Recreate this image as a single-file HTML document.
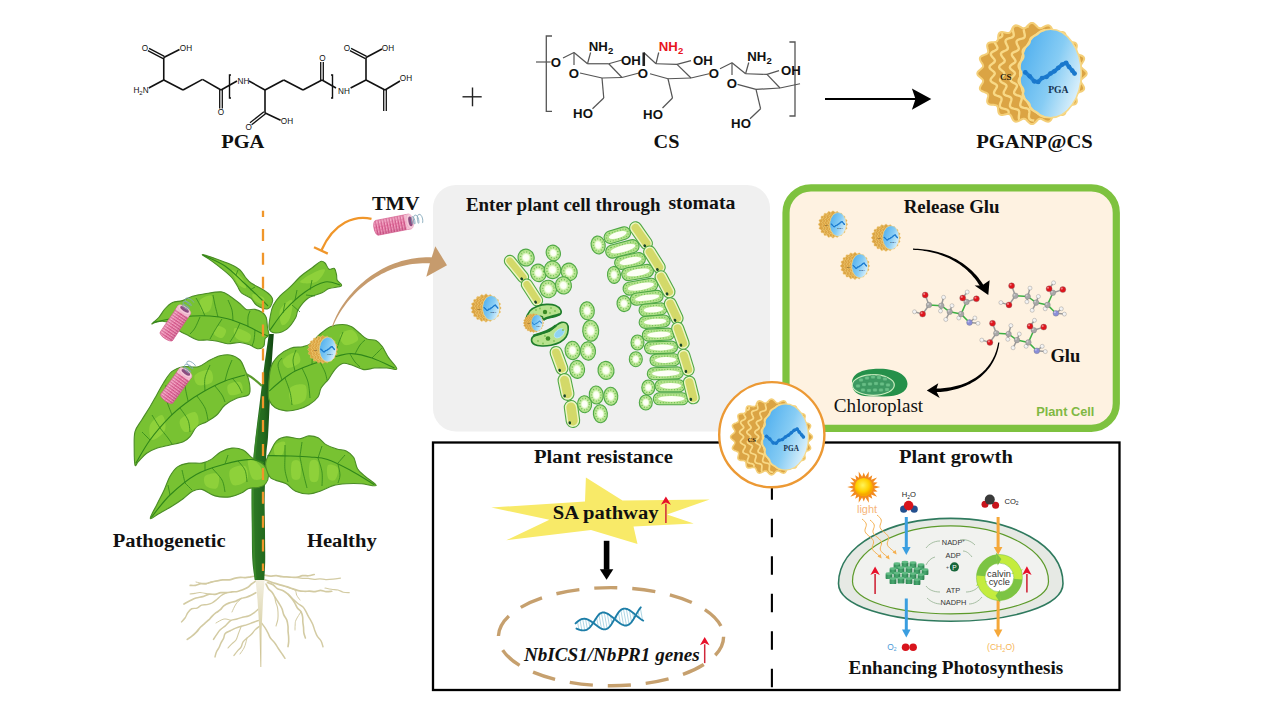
<!DOCTYPE html>
<html><head><meta charset="utf-8"><style>
html,body{margin:0;padding:0;background:#fff;}
svg{display:block;}
</style></head><body>
<svg width="1280" height="720" viewBox="0 0 1280 720">
<defs><clipPath id="npclip"><path d="M97.78,50.00 L97.66,50.69 L97.32,51.37 L96.79,52.04 L96.11,52.68 L95.36,53.30 L94.60,53.89 L93.90,54.47 L93.32,55.05 L92.90,55.64 L92.69,56.24 L92.69,56.88 L92.89,57.55 L93.25,58.27 L93.72,59.02 L94.24,59.80 L94.75,60.61 L95.18,61.41 L95.46,62.19 L95.56,62.94 L95.44,63.63 L95.09,64.25 L94.54,64.80 L93.81,65.28 L92.96,65.70 L92.04,66.07 L91.11,66.42 L90.25,66.78 L89.50,67.16 L88.92,67.60 L88.51,68.11 L88.30,68.72 L88.26,69.42 L88.36,70.20 L88.56,71.05 L88.80,71.94 L89.01,72.85 L89.15,73.74 L89.15,74.56 L89.00,75.30 L88.65,75.92 L88.12,76.42 L87.41,76.78 L86.55,77.03 L85.60,77.19 L84.60,77.28 L83.60,77.35 L82.66,77.44 L81.83,77.59 L81.12,77.84 L80.56,78.21 L80.16,78.73 L79.89,79.38 L79.72,80.15 L79.62,81.02 L79.55,81.94 L79.45,82.86 L79.28,83.74 L79.02,84.53 L78.62,85.18 L78.08,85.68 L77.41,86.00 L76.61,86.14 L75.71,86.14 L74.76,86.01 L73.77,85.81 L72.80,85.59 L71.88,85.41 L71.03,85.32 L70.28,85.35 L69.62,85.55 L69.07,85.92 L68.59,86.47 L68.17,87.15 L67.79,87.95 L67.41,88.80 L67.01,89.65 L66.56,90.44 L66.04,91.12 L65.44,91.63 L64.76,91.94 L64.02,92.05 L63.21,91.96 L62.36,91.70 L61.49,91.31 L60.62,90.84 L59.77,90.36 L58.96,89.92 L58.18,89.59 L57.45,89.41 L56.76,89.41 L56.11,89.60 L55.47,89.98 L54.85,90.52 L54.22,91.17 L53.57,91.87 L52.90,92.56 L52.21,93.19 L51.49,93.68 L50.75,93.99 L50.00,94.10 L49.25,93.99 L48.51,93.68 L47.79,93.19 L47.10,92.56 L46.43,91.87 L45.78,91.17 L45.15,90.52 L44.53,89.98 L43.89,89.60 L43.24,89.41 L42.55,89.41 L41.82,89.59 L41.04,89.92 L40.23,90.36 L39.38,90.84 L38.51,91.31 L37.64,91.70 L36.79,91.96 L35.98,92.05 L35.24,91.94 L34.56,91.63 L33.96,91.12 L33.44,90.44 L32.99,89.65 L32.59,88.80 L32.21,87.95 L31.83,87.15 L31.41,86.47 L30.93,85.92 L30.38,85.55 L29.72,85.35 L28.97,85.32 L28.12,85.41 L27.20,85.59 L26.23,85.81 L25.24,86.01 L24.29,86.14 L23.39,86.14 L22.59,86.00 L21.92,85.68 L21.38,85.18 L20.98,84.53 L20.72,83.74 L20.55,82.86 L20.45,81.94 L20.38,81.02 L20.28,80.15 L20.11,79.38 L19.84,78.73 L19.44,78.21 L18.88,77.84 L18.17,77.59 L17.34,77.44 L16.40,77.35 L15.40,77.28 L14.40,77.19 L13.45,77.03 L12.59,76.78 L11.88,76.42 L11.35,75.92 L11.00,75.30 L10.85,74.56 L10.85,73.74 L10.99,72.85 L11.20,71.94 L11.44,71.05 L11.64,70.20 L11.74,69.42 L11.70,68.72 L11.49,68.11 L11.08,67.60 L10.50,67.16 L9.75,66.78 L8.89,66.42 L7.96,66.07 L7.04,65.70 L6.19,65.28 L5.46,64.80 L4.91,64.25 L4.56,63.63 L4.44,62.94 L4.54,62.19 L4.82,61.41 L5.25,60.61 L5.76,59.80 L6.28,59.02 L6.75,58.27 L7.11,57.55 L7.31,56.88 L7.31,56.24 L7.10,55.64 L6.68,55.05 L6.10,54.47 L5.40,53.89 L4.64,53.30 L3.89,52.68 L3.21,52.04 L2.68,51.37 L2.34,50.69 L2.23,50.00 L2.34,49.31 L2.68,48.63 L3.21,47.96 L3.89,47.32 L4.64,46.70 L5.40,46.11 L6.10,45.53 L6.68,44.95 L7.10,44.36 L7.31,43.76 L7.31,43.12 L7.11,42.45 L6.75,41.73 L6.28,40.98 L5.76,40.20 L5.25,39.39 L4.82,38.59 L4.54,37.81 L4.44,37.06 L4.56,36.37 L4.91,35.75 L5.46,35.20 L6.19,34.72 L7.04,34.30 L7.96,33.93 L8.89,33.58 L9.75,33.22 L10.50,32.84 L11.08,32.40 L11.49,31.89 L11.70,31.28 L11.74,30.58 L11.64,29.80 L11.44,28.95 L11.20,28.06 L10.99,27.15 L10.85,26.26 L10.85,25.44 L11.00,24.70 L11.35,24.08 L11.88,23.58 L12.59,23.22 L13.45,22.97 L14.40,22.81 L15.40,22.72 L16.40,22.65 L17.34,22.56 L18.17,22.41 L18.88,22.16 L19.44,21.79 L19.84,21.27 L20.11,20.62 L20.28,19.85 L20.38,18.98 L20.45,18.06 L20.55,17.14 L20.72,16.26 L20.98,15.47 L21.38,14.82 L21.92,14.32 L22.59,14.00 L23.39,13.86 L24.29,13.86 L25.24,13.99 L26.23,14.19 L27.20,14.41 L28.12,14.59 L28.97,14.68 L29.72,14.65 L30.38,14.45 L30.93,14.08 L31.41,13.53 L31.83,12.85 L32.21,12.05 L32.59,11.20 L32.99,10.35 L33.44,9.56 L33.96,8.88 L34.56,8.37 L35.24,8.06 L35.98,7.95 L36.79,8.04 L37.64,8.30 L38.51,8.69 L39.38,9.16 L40.23,9.64 L41.04,10.08 L41.82,10.41 L42.55,10.59 L43.24,10.59 L43.89,10.40 L44.53,10.02 L45.15,9.48 L45.78,8.83 L46.43,8.13 L47.10,7.44 L47.79,6.81 L48.51,6.32 L49.25,6.01 L50.00,5.90 L50.75,6.01 L51.49,6.32 L52.21,6.81 L52.90,7.44 L53.57,8.13 L54.22,8.83 L54.85,9.48 L55.47,10.02 L56.11,10.40 L56.76,10.59 L57.45,10.59 L58.18,10.41 L58.96,10.08 L59.77,9.64 L60.62,9.16 L61.49,8.69 L62.36,8.30 L63.21,8.04 L64.02,7.95 L64.76,8.06 L65.44,8.37 L66.04,8.88 L66.56,9.56 L67.01,10.35 L67.41,11.20 L67.79,12.05 L68.17,12.85 L68.59,13.53 L69.07,14.08 L69.62,14.45 L70.28,14.65 L71.03,14.68 L71.88,14.59 L72.80,14.41 L73.77,14.19 L74.76,13.99 L75.71,13.86 L76.61,13.86 L77.41,14.00 L78.08,14.32 L78.62,14.82 L79.02,15.47 L79.28,16.26 L79.45,17.14 L79.55,18.06 L79.62,18.98 L79.72,19.85 L79.89,20.62 L80.16,21.27 L80.56,21.79 L81.12,22.16 L81.83,22.41 L82.66,22.56 L83.60,22.65 L84.60,22.72 L85.60,22.81 L86.55,22.97 L87.41,23.22 L88.12,23.58 L88.65,24.08 L89.00,24.70 L89.15,25.44 L89.15,26.26 L89.01,27.15 L88.80,28.06 L88.56,28.95 L88.36,29.80 L88.26,30.58 L88.30,31.28 L88.51,31.89 L88.92,32.40 L89.50,32.84 L90.25,33.22 L91.11,33.58 L92.04,33.93 L92.96,34.30 L93.81,34.72 L94.54,35.20 L95.09,35.75 L95.44,36.37 L95.56,37.06 L95.46,37.81 L95.18,38.59 L94.75,39.39 L94.24,40.20 L93.72,40.98 L93.25,41.73 L92.89,42.45 L92.69,43.12 L92.69,43.76 L92.90,44.36 L93.32,44.95 L93.90,45.53 L94.60,46.11 L95.36,46.70 L96.11,47.32 L96.79,47.96 L97.32,48.63 L97.66,49.31 L97.78,50.00Z"/></clipPath><linearGradient id="gblue" x1="0" y1="0.2" x2="1" y2="0.7"><stop offset="0" stop-color="#4eaeee"/><stop offset="0.55" stop-color="#86ccf4"/><stop offset="1" stop-color="#e2f3fb"/></linearGradient><symbol id="np" viewBox="0 0 100 100"><path d="M98.83,50.00 L98.71,50.71 L98.36,51.41 L97.81,52.09 L97.13,52.74 L96.36,53.37 L95.58,53.98 L94.86,54.58 L94.27,55.17 L93.85,55.77 L93.63,56.39 L93.63,57.04 L93.83,57.73 L94.20,58.46 L94.68,59.24 L95.22,60.04 L95.74,60.86 L96.17,61.68 L96.46,62.48 L96.56,63.24 L96.44,63.95 L96.08,64.59 L95.52,65.15 L94.78,65.65 L93.90,66.07 L92.96,66.46 L92.02,66.81 L91.13,67.18 L90.37,67.57 L89.77,68.02 L89.36,68.55 L89.14,69.16 L89.10,69.88 L89.20,70.68 L89.41,71.55 L89.65,72.47 L89.87,73.40 L90.01,74.30 L90.01,75.15 L89.85,75.90 L89.50,76.54 L88.95,77.05 L88.23,77.42 L87.36,77.68 L86.38,77.83 L85.36,77.93 L84.34,78.00 L83.38,78.09 L82.53,78.24 L81.80,78.50 L81.24,78.89 L80.82,79.41 L80.54,80.08 L80.38,80.87 L80.28,81.76 L80.20,82.70 L80.10,83.64 L79.93,84.54 L79.65,85.35 L79.25,86.02 L78.70,86.53 L78.01,86.85 L77.19,87.00 L76.28,87.00 L75.30,86.87 L74.30,86.66 L73.30,86.44 L72.36,86.25 L71.50,86.16 L70.72,86.19 L70.06,86.40 L69.48,86.78 L69.00,87.33 L68.57,88.04 L68.18,88.85 L67.79,89.73 L67.38,90.60 L66.92,91.41 L66.39,92.09 L65.78,92.62 L65.09,92.94 L64.32,93.05 L63.50,92.96 L62.63,92.69 L61.74,92.29 L60.86,91.81 L59.99,91.32 L59.15,90.87 L58.36,90.53 L57.61,90.35 L56.91,90.35 L56.24,90.55 L55.59,90.94 L54.95,91.48 L54.31,92.15 L53.65,92.87 L52.96,93.58 L52.25,94.21 L51.52,94.72 L50.77,95.04 L50.00,95.15 L49.23,95.04 L48.48,94.72 L47.75,94.21 L47.04,93.58 L46.35,92.87 L45.69,92.15 L45.05,91.48 L44.41,90.94 L43.76,90.55 L43.09,90.35 L42.39,90.35 L41.64,90.53 L40.85,90.87 L40.01,91.32 L39.14,91.81 L38.26,92.29 L37.37,92.69 L36.50,92.96 L35.68,93.05 L34.91,92.94 L34.22,92.62 L33.61,92.09 L33.08,91.41 L32.62,90.60 L32.21,89.73 L31.82,88.85 L31.43,88.04 L31.00,87.33 L30.52,86.78 L29.94,86.40 L29.28,86.19 L28.50,86.16 L27.64,86.25 L26.70,86.44 L25.70,86.66 L24.70,86.87 L23.72,87.00 L22.81,87.00 L21.99,86.85 L21.30,86.53 L20.75,86.02 L20.35,85.35 L20.07,84.54 L19.90,83.64 L19.80,82.70 L19.72,81.76 L19.62,80.87 L19.46,80.08 L19.18,79.41 L18.76,78.89 L18.20,78.50 L17.47,78.24 L16.62,78.09 L15.66,78.00 L14.64,77.93 L13.62,77.83 L12.64,77.68 L11.77,77.42 L11.05,77.05 L10.50,76.54 L10.15,75.90 L9.99,75.15 L9.99,74.30 L10.13,73.40 L10.35,72.47 L10.59,71.55 L10.80,70.68 L10.90,69.88 L10.86,69.16 L10.64,68.55 L10.23,68.02 L9.63,67.57 L8.87,67.18 L7.98,66.81 L7.04,66.46 L6.10,66.07 L5.22,65.65 L4.48,65.15 L3.92,64.59 L3.56,63.95 L3.44,63.24 L3.54,62.48 L3.83,61.68 L4.26,60.86 L4.78,60.04 L5.32,59.24 L5.80,58.46 L6.17,57.73 L6.37,57.04 L6.37,56.39 L6.15,55.77 L5.73,55.17 L5.14,54.58 L4.42,53.98 L3.64,53.37 L2.87,52.74 L2.19,52.09 L1.64,51.41 L1.29,50.71 L1.17,50.00 L1.29,49.29 L1.64,48.59 L2.19,47.91 L2.87,47.26 L3.64,46.63 L4.42,46.02 L5.14,45.42 L5.73,44.83 L6.15,44.23 L6.37,43.61 L6.37,42.96 L6.17,42.27 L5.80,41.54 L5.32,40.76 L4.78,39.96 L4.26,39.14 L3.83,38.32 L3.54,37.52 L3.44,36.76 L3.56,36.05 L3.92,35.41 L4.48,34.85 L5.22,34.35 L6.10,33.93 L7.04,33.54 L7.98,33.19 L8.87,32.82 L9.63,32.43 L10.23,31.98 L10.64,31.45 L10.86,30.84 L10.90,30.12 L10.80,29.32 L10.59,28.45 L10.35,27.53 L10.13,26.60 L9.99,25.70 L9.99,24.85 L10.15,24.10 L10.50,23.46 L11.05,22.95 L11.77,22.58 L12.64,22.32 L13.62,22.17 L14.64,22.07 L15.66,22.00 L16.62,21.91 L17.47,21.76 L18.20,21.50 L18.76,21.11 L19.18,20.59 L19.46,19.92 L19.62,19.13 L19.72,18.24 L19.80,17.30 L19.90,16.36 L20.07,15.46 L20.35,14.65 L20.75,13.98 L21.30,13.47 L21.99,13.15 L22.81,13.00 L23.72,13.00 L24.70,13.13 L25.70,13.34 L26.70,13.56 L27.64,13.75 L28.50,13.84 L29.28,13.81 L29.94,13.60 L30.52,13.22 L31.00,12.67 L31.43,11.96 L31.82,11.15 L32.21,10.27 L32.62,9.40 L33.08,8.59 L33.61,7.91 L34.22,7.38 L34.91,7.06 L35.68,6.95 L36.50,7.04 L37.37,7.31 L38.26,7.71 L39.14,8.19 L40.01,8.68 L40.85,9.13 L41.64,9.47 L42.39,9.65 L43.09,9.65 L43.76,9.45 L44.41,9.06 L45.05,8.52 L45.69,7.85 L46.35,7.13 L47.04,6.42 L47.75,5.79 L48.48,5.28 L49.23,4.96 L50.00,4.85 L50.77,4.96 L51.52,5.28 L52.25,5.79 L52.96,6.42 L53.65,7.13 L54.31,7.85 L54.95,8.52 L55.59,9.06 L56.24,9.45 L56.91,9.65 L57.61,9.65 L58.36,9.47 L59.15,9.13 L59.99,8.68 L60.86,8.19 L61.74,7.71 L62.63,7.31 L63.50,7.04 L64.32,6.95 L65.09,7.06 L65.78,7.38 L66.39,7.91 L66.92,8.59 L67.38,9.40 L67.79,10.27 L68.18,11.15 L68.57,11.96 L69.00,12.67 L69.48,13.22 L70.06,13.60 L70.72,13.81 L71.50,13.84 L72.36,13.75 L73.30,13.56 L74.30,13.34 L75.30,13.13 L76.28,13.00 L77.19,13.00 L78.01,13.15 L78.70,13.47 L79.25,13.98 L79.65,14.65 L79.93,15.46 L80.10,16.36 L80.20,17.30 L80.28,18.24 L80.38,19.13 L80.54,19.92 L80.82,20.59 L81.24,21.11 L81.80,21.50 L82.53,21.76 L83.38,21.91 L84.34,22.00 L85.36,22.07 L86.38,22.17 L87.36,22.32 L88.23,22.58 L88.95,22.95 L89.50,23.46 L89.85,24.10 L90.01,24.85 L90.01,25.70 L89.87,26.60 L89.65,27.53 L89.41,28.45 L89.20,29.32 L89.10,30.12 L89.14,30.84 L89.36,31.45 L89.77,31.98 L90.37,32.43 L91.13,32.82 L92.02,33.19 L92.96,33.54 L93.90,33.93 L94.78,34.35 L95.52,34.85 L96.08,35.41 L96.44,36.05 L96.56,36.76 L96.46,37.52 L96.17,38.32 L95.74,39.14 L95.22,39.96 L94.68,40.76 L94.20,41.54 L93.83,42.27 L93.63,42.96 L93.63,43.61 L93.85,44.23 L94.27,44.83 L94.86,45.42 L95.58,46.02 L96.36,46.63 L97.13,47.26 L97.81,47.91 L98.36,48.59 L98.71,49.29 L98.83,50.00Z" fill="#dba444" stroke="#f4cf78" stroke-width="1.8"/><g clip-path="url(#npclip)"><path d="M26.00,7.00 L24.25,7.42 L22.88,8.08 L22.13,9.12 L22.07,10.52 L22.53,12.17 L23.15,13.85 L23.54,15.37 L23.38,16.59 L22.53,17.47 L21.12,18.11 L19.43,18.65 L17.89,19.29 L16.87,20.16 L16.57,21.31 L16.97,22.70 L17.80,24.20 L18.66,25.66 L19.15,26.96 L18.97,28.04 L18.07,28.92 L16.66,29.68 L15.11,30.45 L13.85,31.32 L13.24,32.35 L13.41,33.54 L14.24,34.81 L15.39,36.09 L16.41,37.31 L16.91,38.42 L16.68,39.45 L15.75,40.42 L14.40,41.40 L13.07,42.42 L12.19,43.50 L12.04,44.61 L12.67,45.72 L13.87,46.79 L15.24,47.81 L16.33,48.80 L16.79,49.81 L16.50,50.89 L15.59,52.05 L14.40,53.28 L13.39,54.54 L12.95,55.75 L13.27,56.84 L14.32,57.78 L15.80,58.60 L17.29,59.38 L18.37,60.22 L18.77,61.23 L18.46,62.45 L17.65,63.84 L16.73,65.32 L16.11,66.75 L16.14,67.98 L16.91,68.95 L18.29,69.67 L19.96,70.25 L21.49,70.86 L22.53,71.65 L22.89,72.75 L22.62,74.17 L22.00,75.80 L21.41,77.46 L21.24,78.95 L21.72,80.12 L22.89,80.91 L24.53,81.40 L26.32,81.79 L27.85,82.31 L28.84,83.16 L29.20,84.42 L29.04,86.06 L28.68,87.88 L28.47,89.64 L28.75,91.10 L29.66,92.12 L31.16,92.70 L33.00,93.00" fill="none" stroke="#f8d986" stroke-width="2.1"/><path d="M37.00,7.00 L35.19,7.34 L33.74,7.95 L32.89,8.98 L32.70,10.42 L33.01,12.14 L33.49,13.90 L33.75,15.49 L33.48,16.73 L32.57,17.59 L31.09,18.16 L29.36,18.62 L27.77,19.19 L26.67,20.03 L26.29,21.19 L26.59,22.63 L27.32,24.20 L28.09,25.73 L28.49,27.08 L28.24,28.16 L27.30,29.00 L25.84,29.71 L24.25,30.41 L22.95,31.23 L22.29,32.25 L22.40,33.45 L23.17,34.77 L24.26,36.11 L25.23,37.37 L25.69,38.50 L25.42,39.52 L24.46,40.46 L23.08,41.40 L21.72,42.39 L20.81,43.45 L20.64,44.56 L21.24,45.68 L22.42,46.78 L23.77,47.82 L24.85,48.83 L25.29,49.84 L24.99,50.90 L24.07,52.05 L22.88,53.28 L21.86,54.54 L21.42,55.75 L21.74,56.84 L22.79,57.79 L24.28,58.60 L25.78,59.37 L26.87,60.20 L27.28,61.20 L26.98,62.42 L26.20,63.84 L25.30,65.34 L24.72,66.78 L24.77,68.03 L25.57,68.99 L26.98,69.69 L28.67,70.24 L30.22,70.81 L31.29,71.59 L31.69,72.69 L31.48,74.13 L30.92,75.80 L30.40,77.50 L30.30,79.02 L30.84,80.19 L32.05,80.96 L33.73,81.42 L35.55,81.76 L37.12,82.25 L38.16,83.08 L38.60,84.36 L38.54,86.03 L38.28,87.90 L38.19,89.70 L38.56,91.19 L39.55,92.20 L41.11,92.75 L43.00,93.00" fill="none" stroke="#f8d986" stroke-width="2.1"/><path d="M47.00,8.00 L45.19,8.30 L43.73,8.87 L42.88,9.87 L42.67,11.30 L42.95,13.01 L43.40,14.77 L43.64,16.34 L43.36,17.57 L42.44,18.39 L40.96,18.92 L39.23,19.34 L37.63,19.86 L36.53,20.66 L36.13,21.80 L36.41,23.23 L37.12,24.80 L37.87,26.33 L38.25,27.66 L37.99,28.72 L37.04,29.53 L35.57,30.19 L33.98,30.84 L32.67,31.63 L32.00,32.61 L32.10,33.80 L32.85,35.11 L33.92,36.44 L34.88,37.69 L35.32,38.81 L35.04,39.80 L34.07,40.71 L32.68,41.60 L31.31,42.55 L30.39,43.57 L30.20,44.66 L30.79,45.77 L31.96,46.85 L33.30,47.88 L34.36,48.87 L34.80,49.86 L34.48,50.90 L33.54,52.01 L32.34,53.20 L31.31,54.43 L30.85,55.61 L31.17,56.68 L32.21,57.60 L33.68,58.40 L35.17,59.15 L36.24,59.96 L36.64,60.94 L36.34,62.13 L35.54,63.51 L34.62,64.99 L34.03,66.40 L34.07,67.62 L34.86,68.57 L36.26,69.24 L37.93,69.77 L39.48,70.32 L40.53,71.07 L40.91,72.14 L40.69,73.56 L40.12,75.20 L39.59,76.88 L39.47,78.37 L40.00,79.52 L41.20,80.26 L42.87,80.69 L44.67,81.01 L46.22,81.47 L47.26,82.27 L47.68,83.53 L47.61,85.17 L47.35,87.02 L47.24,88.81 L47.60,90.27 L48.58,91.26 L50.12,91.78 L52.00,92.00" fill="none" stroke="#f8d986" stroke-width="2.1"/></g><ellipse cx="66.5" cy="50" rx="27.5" ry="39.5" fill="url(#gblue)" stroke="#f6d98a" stroke-width="1.4"/><path d="M61.72,88.90 L60.61,88.64 L59.51,88.33 L58.51,87.97 L57.67,87.57 L56.99,87.12 L56.42,86.62 L55.83,86.09 L55.11,85.50 L54.18,84.88 L53.04,84.21 L51.77,83.50 L50.52,82.75 L49.46,81.96 L48.71,81.13 L48.28,80.26 L48.10,79.35 L47.98,78.41 L47.72,77.44 L47.17,76.43 L46.25,75.39 L45.06,74.32 L43.78,73.22 L42.66,72.09 L41.90,70.93 L41.60,69.75 L41.71,68.54 L42.05,67.32 L42.35,66.07 L42.38,64.80 L41.97,63.51 L41.15,62.21 L40.07,60.89 L39.00,59.56 L38.23,58.21 L37.96,56.86 L38.21,55.50 L38.86,54.13 L39.64,52.76 L40.27,51.38 L40.51,50.00 L40.27,48.62 L39.64,47.24 L38.86,45.87 L38.21,44.50 L37.96,43.14 L38.23,41.79 L39.00,40.44 L40.07,39.11 L41.15,37.79 L41.97,36.49 L42.38,35.20 L42.35,33.93 L42.05,32.68 L41.71,31.46 L41.60,30.25 L41.90,29.07 L42.66,27.91 L43.78,26.78 L45.06,25.68 L46.25,24.61 L47.17,23.57 L47.72,22.56 L47.98,21.59 L48.10,20.65 L48.28,19.74 L48.71,18.87 L49.46,18.04 L50.52,17.25 L51.77,16.50 L53.04,15.79 L54.18,15.12 L55.11,14.50 L55.83,13.91 L56.42,13.38 L56.99,12.88 L57.67,12.43 L58.51,12.03 L59.51,11.67 L60.61,11.36 L61.72,11.10" fill="none" stroke="#f8d986" stroke-width="2"/><path d="M44,49 L48,52.5 L52,57 L55.5,57.5 L59,54 L63,53 L66.5,50 L70,48 L73.5,45 L77,42 L80.5,40.5 L83,44 L86,47.5 L88,50" fill="none" stroke="#1f80d4" stroke-width="3.4" stroke-linecap="round" stroke-linejoin="round"/><circle cx="44" cy="49" r="2.1" fill="#1a78cc"/><circle cx="48" cy="52.5" r="2.1" fill="#1a78cc"/><circle cx="52" cy="57" r="2.1" fill="#1a78cc"/><circle cx="55.5" cy="57.5" r="2.1" fill="#1a78cc"/><circle cx="59" cy="54" r="2.1" fill="#1a78cc"/><circle cx="63" cy="53" r="2.1" fill="#1a78cc"/><circle cx="66.5" cy="50" r="2.1" fill="#1a78cc"/><circle cx="70" cy="48" r="2.1" fill="#1a78cc"/><circle cx="73.5" cy="45" r="2.1" fill="#1a78cc"/><circle cx="77" cy="42" r="2.1" fill="#1a78cc"/><circle cx="80.5" cy="40.5" r="2.1" fill="#1a78cc"/><circle cx="83" cy="44" r="2.1" fill="#1a78cc"/><circle cx="86" cy="47.5" r="2.1" fill="#1a78cc"/><circle cx="88" cy="50" r="2.1" fill="#1a78cc"/><text x="26.5" y="55.5" text-anchor="middle" font-family='"Liberation Serif", serif' font-weight="bold" font-size="8" fill="#2a1a08">CS</text><text x="73.5" y="67" text-anchor="middle" font-family='"Liberation Serif", serif' font-weight="bold" font-size="8.6" fill="#14304d">PGA</text></symbol><linearGradient id="groot" x1="0" y1="0" x2="0" y2="1"><stop offset="0" stop-color="#f4f1e4"/><stop offset="0.5" stop-color="#ddd6b0"/><stop offset="1" stop-color="#cbbf8e"/></linearGradient><linearGradient id="gstem" x1="0" y1="0" x2="1" y2="0"><stop offset="0" stop-color="#2f7a26"/><stop offset="0.55" stop-color="#236a1e"/><stop offset="1" stop-color="#0f4410"/></linearGradient><g id="tmv"><defs><pattern id="tmvpat" width="2.8" height="3" patternUnits="userSpaceOnUse"><rect width="2.8" height="3" fill="#e0679a"/><rect x="0" width="1.2" height="3" fill="#f4a3c2"/><rect x="2" width="0.8" height="3" fill="#c9497e"/><rect y="2.3" width="2.8" height="0.7" fill="#d2588a" opacity="0.5"/></pattern><linearGradient id="tmvshade" x1="0" y1="0" x2="0" y2="1"><stop offset="0" stop-color="#fff" stop-opacity="0.25"/><stop offset="0.5" stop-color="#fff" stop-opacity="0"/><stop offset="1" stop-color="#802050" stop-opacity="0.2"/></linearGradient></defs><path d="M2.5,-7.5 L36,-7.5 L36,7.5 L2.5,7.5 A3,7.5 0 0 1 2.5,-7.5 Z" fill="url(#tmvpat)"/><path d="M2.5,-7.5 L36,-7.5 L36,7.5 L2.5,7.5 A3,7.5 0 0 1 2.5,-7.5 Z" fill="url(#tmvshade)" stroke="#d4588a" stroke-width="0.6"/><rect x="31.5" y="-7.5" width="4.5" height="15" fill="#f4c0d4"/><ellipse cx="36" cy="0" rx="3.6" ry="7.5" fill="#f6c9da" stroke="#e7a0bb" stroke-width="0.5"/><ellipse cx="36.6" cy="0" rx="2" ry="5" fill="#8c4c80"/><path d="M38,3 C37,-6 41,-6 41,0 C41,5 39,5 40,-2 C41,-7 45,-6 45,0 C45,5 43,5 44,-2 C45,-7 49,-6 49,0 C49,3 48,4 48,4" fill="none" stroke="#7fa5b8" stroke-width="0.8"/></g><radialGradient id="gcell"><stop offset="0" stop-color="#ffffff"/><stop offset="0.35" stop-color="#fbfff0"/><stop offset="0.55" stop-color="#c9eca6"/><stop offset="1" stop-color="#a6dc7e"/></radialGradient><radialGradient id="gpal"><stop offset="0" stop-color="#ffffff"/><stop offset="0.55" stop-color="#fbfff2"/><stop offset="0.72" stop-color="#c5eaa2"/><stop offset="1" stop-color="#a4da7c"/></radialGradient><linearGradient id="ggr" x1="0" y1="0" x2="1" y2="0"><stop offset="0" stop-color="#2f8a55"/><stop offset="0.5" stop-color="#4aa870"/><stop offset="1" stop-color="#2a7c4c"/></linearGradient><radialGradient id="gsun" cx="0.45" cy="0.4"><stop offset="0" stop-color="#fff35a"/><stop offset="0.7" stop-color="#ffd000"/><stop offset="1" stop-color="#f8a800"/></radialGradient></defs>
<rect width="1280" height="720" fill="#fff"/>
<line x1="163.75" y1="57.5" x2="163.75" y2="80" stroke="#111" stroke-width="1.6"/><line x1="148.75" y1="88" x2="163.75" y2="80" stroke="#111" stroke-width="1.6"/><line x1="163.75" y1="80" x2="183" y2="90" stroke="#111" stroke-width="1.6"/><line x1="183" y1="90" x2="202.5" y2="79.4" stroke="#111" stroke-width="1.6"/><line x1="202.5" y1="79.4" x2="221" y2="90" stroke="#111" stroke-width="1.6"/><line x1="221" y1="90" x2="237" y2="81" stroke="#111" stroke-width="1.6"/><line x1="249" y1="81" x2="265" y2="90" stroke="#111" stroke-width="1.6"/><line x1="265" y1="90" x2="283.75" y2="80" stroke="#111" stroke-width="1.6"/><line x1="283.75" y1="80" x2="303" y2="90" stroke="#111" stroke-width="1.6"/><line x1="303" y1="90" x2="322" y2="80" stroke="#111" stroke-width="1.6"/><line x1="322" y1="80" x2="336" y2="88" stroke="#111" stroke-width="1.6"/><line x1="350.6" y1="88" x2="366" y2="80" stroke="#111" stroke-width="1.6"/><line x1="366" y1="80" x2="366" y2="57.5" stroke="#111" stroke-width="1.6"/><line x1="366" y1="57.5" x2="382" y2="49" stroke="#111" stroke-width="1.6"/><line x1="366" y1="80" x2="385" y2="90" stroke="#111" stroke-width="1.6"/><line x1="385" y1="90" x2="400" y2="81" stroke="#111" stroke-width="1.6"/><line x1="163.75" y1="57.5" x2="179.5" y2="49.5" stroke="#111" stroke-width="1.6"/><line x1="265" y1="90" x2="265" y2="112.8" stroke="#111" stroke-width="1.6"/><line x1="264.7" y1="112.8" x2="280.6" y2="120.3" stroke="#111" stroke-width="1.6"/><line x1="164.35" y1="56.35" x2="149.10" y2="48.35" stroke="#111" stroke-width="1.3"/><line x1="163.15" y1="58.65" x2="147.90" y2="50.65" stroke="#111" stroke-width="1.3"/><line x1="219.70" y1="90.00" x2="219.70" y2="108.50" stroke="#111" stroke-width="1.3"/><line x1="222.30" y1="90.00" x2="222.30" y2="108.50" stroke="#111" stroke-width="1.3"/><line x1="323.30" y1="80.00" x2="323.30" y2="62.00" stroke="#111" stroke-width="1.3"/><line x1="320.70" y1="80.00" x2="320.70" y2="62.00" stroke="#111" stroke-width="1.3"/><line x1="366.60" y1="56.34" x2="351.10" y2="48.34" stroke="#111" stroke-width="1.3"/><line x1="365.40" y1="58.66" x2="349.90" y2="50.66" stroke="#111" stroke-width="1.3"/><line x1="383.70" y1="90.00" x2="383.70" y2="111.00" stroke="#111" stroke-width="1.3"/><line x1="386.30" y1="90.00" x2="386.30" y2="111.00" stroke="#111" stroke-width="1.3"/><line x1="263.89" y1="111.78" x2="249.99" y2="122.78" stroke="#111" stroke-width="1.3"/><line x1="265.51" y1="113.82" x2="251.61" y2="124.82" stroke="#111" stroke-width="1.3"/><path d="M231,75 L229.5,75 L229.5,98 L231,98" fill="none" stroke="#111" stroke-width="1.4"/><path d="M331,75 L332.5,75 L332.5,98 L331,98" fill="none" stroke="#111" stroke-width="1.4"/><text x="145" y="50.5" font-family='"Liberation Sans", sans-serif' font-size="8.2" font-weight="normal" font-style="normal" text-anchor="middle" fill="#111" >O</text><text x="186" y="50.5" font-family='"Liberation Sans", sans-serif' font-size="8.2" font-weight="normal" font-style="normal" text-anchor="middle" fill="#111" >OH</text><text x="141" y="93" font-family='"Liberation Sans", sans-serif' font-size="8.2" font-weight="normal" font-style="normal" text-anchor="middle" fill="#111" >H<tspan font-size="6" dy="1.5">2</tspan><tspan dy="-1.5">N</tspan></text><text x="221" y="114.5" font-family='"Liberation Sans", sans-serif' font-size="8.2" font-weight="normal" font-style="normal" text-anchor="middle" fill="#111" >O</text><text x="243.5" y="84" font-family='"Liberation Sans", sans-serif' font-size="8.2" font-weight="normal" font-style="normal" text-anchor="middle" fill="#111" >NH</text><text x="322.5" y="61" font-family='"Liberation Sans", sans-serif' font-size="8.2" font-weight="normal" font-style="normal" text-anchor="middle" fill="#111" >O</text><text x="344" y="93.5" font-family='"Liberation Sans", sans-serif' font-size="8.2" font-weight="normal" font-style="normal" text-anchor="middle" fill="#111" >NH</text><text x="347" y="50.5" font-family='"Liberation Sans", sans-serif' font-size="8.2" font-weight="normal" font-style="normal" text-anchor="middle" fill="#111" >O</text><text x="388" y="50.5" font-family='"Liberation Sans", sans-serif' font-size="8.2" font-weight="normal" font-style="normal" text-anchor="middle" fill="#111" >OH</text><text x="406" y="81" font-family='"Liberation Sans", sans-serif' font-size="8.2" font-weight="normal" font-style="normal" text-anchor="middle" fill="#111" >OH</text><text x="248.8" y="129.5" font-family='"Liberation Sans", sans-serif' font-size="8.2" font-weight="normal" font-style="normal" text-anchor="middle" fill="#111" >O</text><text x="287" y="124" font-family='"Liberation Sans", sans-serif' font-size="8.2" font-weight="normal" font-style="normal" text-anchor="middle" fill="#111" >OH</text><text x="221.2" y="147.7" textLength="43.2" lengthAdjust="spacingAndGlyphs" font-family='"Liberation Serif", serif' font-size="19.6" font-weight="bold" font-style="normal" fill="#111" >PGA</text><line x1="462.5" y1="96.8" x2="481.7" y2="96.8" stroke="#222" stroke-width="1.4"/><line x1="472.5" y1="87.5" x2="472.5" y2="106.3" stroke="#222" stroke-width="1.4"/><line x1="536" y1="62" x2="550.6" y2="62" stroke="#555" stroke-width="1.2"/><line x1="563" y1="58" x2="574" y2="52.5" stroke="#555" stroke-width="1.2"/><line x1="574" y1="52.5" x2="574" y2="65" stroke="#555" stroke-width="1.2"/><line x1="574" y1="52.5" x2="587.5" y2="63.75" stroke="#555" stroke-width="1.2"/><line x1="587.5" y1="63.75" x2="590.6" y2="52.5" stroke="#555" stroke-width="1.2"/><line x1="587.5" y1="63.75" x2="608.75" y2="63.75" stroke="#555" stroke-width="1.2"/><line x1="608.75" y1="63.75" x2="622" y2="60" stroke="#555" stroke-width="1.2"/><line x1="608.75" y1="63.75" x2="622" y2="77.5" stroke="#555" stroke-width="1.2"/><line x1="580" y1="73" x2="602" y2="78" stroke="#555" stroke-width="1.2"/><line x1="602" y1="78" x2="622" y2="77.5" stroke="#555" stroke-width="1.2"/><line x1="602" y1="78" x2="603.75" y2="98" stroke="#555" stroke-width="1.2"/><line x1="603.75" y1="98" x2="592.5" y2="108.75" stroke="#555" stroke-width="1.2"/><line x1="622" y1="77.5" x2="639" y2="73" stroke="#555" stroke-width="1.2"/><line x1="643.75" y1="52.5" x2="656" y2="63.75" stroke="#555" stroke-width="1.2"/><line x1="656" y1="63.75" x2="677" y2="64.4" stroke="#555" stroke-width="1.2"/><line x1="677" y1="64.4" x2="691" y2="60.6" stroke="#555" stroke-width="1.2"/><line x1="677" y1="64.4" x2="691" y2="78" stroke="#555" stroke-width="1.2"/><line x1="650" y1="73.75" x2="668" y2="78.75" stroke="#555" stroke-width="1.2"/><line x1="668" y1="78.75" x2="691" y2="78" stroke="#555" stroke-width="1.2"/><line x1="668" y1="78.75" x2="672.5" y2="98" stroke="#555" stroke-width="1.2"/><line x1="672.5" y1="98" x2="662.5" y2="108" stroke="#555" stroke-width="1.2"/><line x1="691" y1="78" x2="709" y2="73.75" stroke="#555" stroke-width="1.2"/><line x1="720" y1="68.75" x2="732" y2="62.75" stroke="#555" stroke-width="1.2"/><line x1="732" y1="62.75" x2="732" y2="75" stroke="#555" stroke-width="1.2"/><line x1="732" y1="62.75" x2="745.6" y2="73.75" stroke="#555" stroke-width="1.2"/><line x1="745.6" y1="73.75" x2="748.75" y2="62.5" stroke="#555" stroke-width="1.2"/><line x1="745.6" y1="73.75" x2="767" y2="74.4" stroke="#555" stroke-width="1.2"/><line x1="767" y1="74.4" x2="779" y2="70.6" stroke="#555" stroke-width="1.2"/><line x1="767" y1="74.4" x2="780" y2="88" stroke="#555" stroke-width="1.2"/><line x1="737.5" y1="84.4" x2="756" y2="89.4" stroke="#555" stroke-width="1.2"/><line x1="756" y1="89.4" x2="780" y2="88" stroke="#555" stroke-width="1.2"/><line x1="780" y1="88" x2="800" y2="83.75" stroke="#555" stroke-width="1.2"/><line x1="756" y1="89.4" x2="760.6" y2="108.75" stroke="#555" stroke-width="1.2"/><line x1="760.6" y1="108.75" x2="750" y2="118.75" stroke="#555" stroke-width="1.2"/><line x1="656" y1="63.75" x2="658.7" y2="52.5" stroke="#555" stroke-width="1.2"/><line x1="643.75" y1="52.5" x2="643.75" y2="66" stroke="#222" stroke-width="2.6"/><path d="M552,36 L546.3,36 L546.3,111.3 L552,111.3" fill="none" stroke="#555" stroke-width="1.3"/><path d="M789.4,42 L795,42 L795,116 L789.4,116" fill="none" stroke="#555" stroke-width="1.3"/><text x="556" y="67" font-family='"Liberation Sans", sans-serif' font-size="13.2" font-weight="bold" font-style="normal" text-anchor="middle" fill="#111" >O</text><text x="574" y="77.5" font-family='"Liberation Sans", sans-serif' font-size="13.2" font-weight="bold" font-style="normal" text-anchor="middle" fill="#111" >O</text><text x="601" y="50.8" font-family='"Liberation Sans", sans-serif' font-size="13.2" font-weight="bold" font-style="normal" text-anchor="middle" fill="#111" >NH<tspan font-size="9.5" dy="3">2</tspan></text><text x="631" y="64.5" font-family='"Liberation Sans", sans-serif' font-size="13.2" font-weight="bold" font-style="normal" text-anchor="middle" fill="#111" >OH</text><text x="643" y="78" font-family='"Liberation Sans", sans-serif' font-size="13.2" font-weight="bold" font-style="normal" text-anchor="middle" fill="#111" >O</text><text x="671" y="50.8" font-family='"Liberation Sans", sans-serif' font-size="13.2" font-weight="bold" font-style="normal" text-anchor="middle" fill="#e8141e" >NH<tspan font-size="9.5" dy="3">2</tspan></text><text x="703" y="65" font-family='"Liberation Sans", sans-serif' font-size="13.2" font-weight="bold" font-style="normal" text-anchor="middle" fill="#111" >OH</text><text x="714" y="78" font-family='"Liberation Sans", sans-serif' font-size="13.2" font-weight="bold" font-style="normal" text-anchor="middle" fill="#111" >O</text><text x="732" y="88" font-family='"Liberation Sans", sans-serif' font-size="13.2" font-weight="bold" font-style="normal" text-anchor="middle" fill="#111" >O</text><text x="759.5" y="60.8" font-family='"Liberation Sans", sans-serif' font-size="13.2" font-weight="bold" font-style="normal" text-anchor="middle" fill="#111" >NH<tspan font-size="9.5" dy="3">2</tspan></text><text x="791" y="75" font-family='"Liberation Sans", sans-serif' font-size="13.2" font-weight="bold" font-style="normal" text-anchor="middle" fill="#111" >OH</text><text x="583" y="118" font-family='"Liberation Sans", sans-serif' font-size="13.2" font-weight="bold" font-style="normal" text-anchor="middle" fill="#111" >HO</text><text x="653" y="118.5" font-family='"Liberation Sans", sans-serif' font-size="13.2" font-weight="bold" font-style="normal" text-anchor="middle" fill="#111" >HO</text><text x="741" y="128.4" font-family='"Liberation Sans", sans-serif' font-size="13.2" font-weight="bold" font-style="normal" text-anchor="middle" fill="#111" >HO</text><text x="653.6" y="147.7" textLength="25.9" lengthAdjust="spacingAndGlyphs" font-family='"Liberation Serif", serif' font-size="19.4" font-weight="bold" font-style="normal" fill="#111" >CS</text><line x1="825" y1="99" x2="916" y2="99" stroke="#000" stroke-width="2.2"/><path d="M931.3,99 L911.9,88.5 L915.5,99 L911.9,109.8 Z" fill="#000"/><use href="#np" x="976.0" y="17.5" width="112" height="112"/><text x="976.2" y="147.5" textLength="116.6" lengthAdjust="spacingAndGlyphs" font-family='"Liberation Serif", serif' font-size="19.5" font-weight="bold" font-style="normal" fill="#111" >PGANP@CS</text><rect x="433" y="185" width="337" height="246.5" rx="23" ry="23" fill="#f0f0f0"/><rect x="786" y="187.8" width="330.3" height="240.6" rx="25" ry="25" fill="#fef2e1" stroke="#7ec23f" stroke-width="7.2"/><rect x="433" y="442.5" width="686.5" height="247.5" fill="#fff" stroke="#000" stroke-width="2.3"/><line x1="771.9" y1="481.25" x2="771.9" y2="499.75" stroke="#000" stroke-width="2.1"/><line x1="771.9" y1="518.75" x2="771.9" y2="537.25" stroke="#000" stroke-width="2.1"/><line x1="771.9" y1="556.25" x2="771.9" y2="574.75" stroke="#000" stroke-width="2.1"/><line x1="771.9" y1="593.75" x2="771.9" y2="612.25" stroke="#000" stroke-width="2.1"/><line x1="771.9" y1="631.25" x2="771.9" y2="649.75" stroke="#000" stroke-width="2.1"/><line x1="771.9" y1="668.75" x2="771.9" y2="687.25" stroke="#000" stroke-width="2.1"/><text x="465.9" y="210.7" textLength="194.6" lengthAdjust="spacingAndGlyphs" font-family='"Liberation Serif", serif' font-size="18.8" font-weight="bold" font-style="normal" fill="#111" >Enter plant cell through</text><text x="668.4" y="208.75" textLength="67.0" lengthAdjust="spacingAndGlyphs" font-family='"Liberation Serif", serif' font-size="18.8" font-weight="bold" font-style="normal" fill="#111" >stomata</text><text x="903.7" y="212.7" textLength="95.9" lengthAdjust="spacingAndGlyphs" font-family='"Liberation Serif", serif' font-size="18.8" font-weight="bold" font-style="normal" fill="#111" >Release Glu</text><text x="534.0" y="463" textLength="138.9" lengthAdjust="spacingAndGlyphs" font-family='"Liberation Serif", serif' font-size="19.2" font-weight="bold" font-style="normal" fill="#111" >Plant resistance</text><text x="898.9" y="462.8" textLength="113.9" lengthAdjust="spacingAndGlyphs" font-family='"Liberation Serif", serif' font-size="19" font-weight="bold" font-style="normal" fill="#111" >Plant growth</text><text x="848.6" y="674.4" textLength="214.6" lengthAdjust="spacingAndGlyphs" font-family='"Liberation Serif", serif' font-size="19" font-weight="bold" font-style="normal" fill="#111" >Enhancing Photosynthesis</text><text x="112.7" y="547.4" textLength="113.0" lengthAdjust="spacingAndGlyphs" font-family='"Liberation Serif", serif' font-size="19.6" font-weight="bold" font-style="normal" fill="#111" >Pathogenetic</text><text x="307.0" y="546.8" textLength="69.7" lengthAdjust="spacingAndGlyphs" font-family='"Liberation Serif", serif' font-size="19.2" font-weight="bold" font-style="normal" fill="#111" >Healthy</text><text x="371.9" y="210.3" textLength="47.6" lengthAdjust="spacingAndGlyphs" font-family='"Liberation Serif", serif' font-size="18.8" font-weight="bold" font-style="normal" fill="#111" >TMV</text><text x="1050.4" y="361.7" textLength="29.8" lengthAdjust="spacingAndGlyphs" font-family='"Liberation Serif", serif' font-size="19.3" font-weight="bold" font-style="normal" fill="#111" >Glu</text><text x="833.8" y="412.4" textLength="89.4" lengthAdjust="spacingAndGlyphs" font-family='"Liberation Serif", serif' font-size="18.5" font-weight="normal" font-style="normal" fill="#111" >Chloroplast</text><text x="1036.2" y="415.6" textLength="58.2" lengthAdjust="spacingAndGlyphs" font-family='"Liberation Sans", sans-serif' font-size="12.8" font-weight="bold" font-style="normal" fill="#80b843" >Plant Cell</text><circle cx="771.8" cy="434.7" r="52.6" fill="#fff" stroke="#ec9934" stroke-width="2.4"/><use href="#np" x="729.5" y="395.0" width="84" height="84"/><path d="M255.80,576.00 C254.96,576.14 252.42,576.56 250.73,576.84 C249.04,577.12 247.37,577.60 245.66,577.68 C243.95,577.75 242.18,577.23 240.47,577.30 C238.76,577.38 237.28,577.68 235.40,578.10 C233.52,578.52 231.32,579.52 229.22,579.83 C227.12,580.14 224.91,579.77 222.79,579.97 C220.67,580.16 218.42,580.64 216.50,581.00 C214.58,581.36 213.01,581.69 211.28,582.12 C209.55,582.54 207.87,583.29 206.11,583.54 C204.35,583.80 202.47,583.33 200.72,583.63 C198.97,583.93 197.35,585.05 195.60,585.34 C193.84,585.64 191.10,585.39 190.20,585.40" fill="none" stroke="#d3cba3" stroke-width="1.7" stroke-linecap="round" stroke-linejoin="round"/><path d="M255.80,581.00 C255.08,581.51 252.88,582.95 251.50,584.03 C250.12,585.12 248.97,586.55 247.50,587.51 C246.03,588.47 244.37,589.14 242.70,589.80 C241.03,590.46 239.27,591.15 237.50,591.49 C235.72,591.84 233.86,591.67 232.06,591.87 C230.26,592.07 228.57,592.58 226.70,592.70 C224.83,592.82 222.75,592.33 220.82,592.61 C218.88,592.89 217.03,594.11 215.09,594.37 C213.16,594.64 211.26,593.83 209.20,594.20 C207.14,594.57 204.94,595.95 202.74,596.58 C200.54,597.21 198.14,597.30 196.00,598.00 C193.86,598.70 191.90,599.79 189.90,600.79 C187.90,601.79 184.98,603.47 184.00,604.00" fill="none" stroke="#d3cba3" stroke-width="1.7" stroke-linecap="round" stroke-linejoin="round"/><path d="M226.70,592.70 C225.81,593.16 222.98,594.35 221.34,595.47 C219.69,596.60 218.38,598.20 216.82,599.45 C215.26,600.71 213.64,602.14 212.00,603.00 C210.36,603.86 208.71,604.27 206.98,604.62 C205.25,604.96 203.28,604.47 201.62,605.05 C199.95,605.63 198.65,607.48 197.00,608.10 C195.34,608.71 193.23,607.98 191.70,608.75 C190.17,609.52 188.87,611.24 187.79,612.74 C186.71,614.24 186.25,616.22 185.20,617.75 C184.15,619.28 182.12,621.21 181.50,621.90" fill="none" stroke="#d3cba3" stroke-width="1.4" stroke-linecap="round" stroke-linejoin="round"/><path d="M255.80,592.70 C255.03,593.12 252.76,594.48 251.19,595.23 C249.61,595.98 248.01,596.66 246.35,597.21 C244.70,597.75 243.05,597.83 241.25,598.50 C239.45,599.17 237.53,600.53 235.55,601.25 C233.57,601.98 231.33,602.08 229.36,602.84 C227.40,603.60 225.25,604.65 223.75,605.80 C222.25,606.95 221.63,608.57 220.35,609.72 C219.07,610.87 217.43,611.63 216.07,612.69 C214.71,613.76 213.43,614.90 212.21,616.12 C210.99,617.33 209.98,618.77 208.75,619.97 C207.51,621.17 206.20,622.08 204.80,623.30 C203.40,624.52 201.74,625.82 200.37,627.26 C199.00,628.70 197.94,630.48 196.58,631.93 C195.22,633.38 193.76,634.71 192.21,635.96 C190.66,637.20 188.12,638.83 187.30,639.40" fill="none" stroke="#d3cba3" stroke-width="1.7" stroke-linecap="round" stroke-linejoin="round"/><path d="M258.75,608.75 C257.95,609.43 255.64,611.60 253.93,612.81 C252.22,614.02 250.39,615.28 248.50,616.00 C246.61,616.72 244.53,616.64 242.59,617.15 C240.65,617.66 238.80,618.52 236.87,619.06 C234.93,619.60 232.86,619.33 231.00,620.40 C229.14,621.47 227.55,623.85 225.72,625.45 C223.89,627.05 221.52,628.47 220.00,630.00 C218.48,631.53 217.71,633.05 216.62,634.61 C215.54,636.18 214.02,638.60 213.50,639.40" fill="none" stroke="#d3cba3" stroke-width="1.5" stroke-linecap="round" stroke-linejoin="round"/><path d="M258.75,620.40 C257.78,620.74 254.87,621.72 252.94,622.43 C251.02,623.14 249.15,624.01 247.20,624.64 C245.25,625.28 243.17,625.66 241.25,626.25 C239.33,626.84 237.49,627.43 235.68,628.18 C233.87,628.93 232.15,629.87 230.40,630.76 C228.66,631.64 226.34,632.23 225.20,633.50 C224.06,634.77 224.28,636.81 223.58,638.36 C222.88,639.92 221.75,641.28 221.00,642.81 C220.24,644.33 219.80,646.00 219.04,647.52 C218.28,649.05 217.09,650.39 216.42,651.95 C215.75,653.51 215.24,656.08 215.00,656.90" fill="none" stroke="#d3cba3" stroke-width="1.5" stroke-linecap="round" stroke-linejoin="round"/><path d="M259.50,626.25 C258.76,626.85 256.40,628.51 255.05,629.87 C253.71,631.22 252.77,633.01 251.43,634.36 C250.09,635.72 248.40,636.75 247.00,638.00 C245.60,639.25 244.05,640.31 243.06,641.83 C242.07,643.35 242.00,645.56 241.05,647.11 C240.10,648.66 238.54,649.76 237.37,651.14 C236.19,652.52 234.56,654.69 234.00,655.40" fill="none" stroke="#d3cba3" stroke-width="1.4" stroke-linecap="round" stroke-linejoin="round"/><path d="M264.60,575.20 C265.56,575.36 268.42,576.10 270.36,576.16 C272.30,576.22 274.31,575.49 276.25,575.58 C278.19,575.67 279.82,576.46 282.00,576.70 C284.18,576.94 286.90,576.91 289.35,577.03 C291.80,577.15 294.53,577.64 296.70,577.40 C298.87,577.16 300.45,575.89 302.40,575.62 C304.35,575.34 306.45,575.95 308.42,575.77 C310.38,575.58 313.24,574.71 314.20,574.50" fill="none" stroke="#d3cba3" stroke-width="1.7" stroke-linecap="round" stroke-linejoin="round"/><path d="M296.70,577.40 C297.66,577.55 300.55,578.15 302.48,578.31 C304.42,578.48 306.39,578.23 308.33,578.41 C310.27,578.59 312.16,579.32 314.11,579.39 C316.05,579.46 318.06,578.79 320.01,578.83 C321.95,578.86 323.61,579.54 325.80,579.60 C327.99,579.66 330.70,579.45 333.14,579.20 C335.57,578.95 339.19,578.28 340.40,578.10" fill="none" stroke="#d3cba3" stroke-width="1.3" stroke-linecap="round" stroke-linejoin="round"/><path d="M264.60,579.60 C265.56,579.95 268.42,581.03 270.35,581.69 C272.27,582.36 274.21,582.99 276.15,583.60 C278.10,584.22 280.11,584.87 282.00,585.40 C283.89,585.93 285.71,586.20 287.52,586.79 C289.33,587.37 291.05,588.29 292.84,588.92 C294.64,589.55 296.43,590.17 298.29,590.56 C300.15,590.95 302.13,591.14 304.00,591.25 C305.87,591.36 307.69,591.15 309.54,591.20 C311.39,591.25 313.23,591.67 315.08,591.55 C316.93,591.42 318.77,590.45 320.62,590.46 C322.47,590.47 324.31,591.48 326.16,591.61 C328.01,591.74 330.78,591.31 331.70,591.25" fill="none" stroke="#d3cba3" stroke-width="1.7" stroke-linecap="round" stroke-linejoin="round"/><path d="M325.00,588.00 C326.08,588.21 329.29,588.93 331.46,589.26 C333.63,589.60 336.01,589.51 338.00,590.00 C339.99,590.49 341.53,591.76 343.39,592.21 C345.26,592.66 348.23,592.62 349.20,592.70" fill="none" stroke="#d3cba3" stroke-width="1.2" stroke-linecap="round" stroke-linejoin="round"/><path d="M266.00,584.00 C266.41,584.78 267.42,587.25 268.45,588.66 C269.48,590.07 271.13,591.06 272.19,592.45 C273.25,593.84 273.74,595.28 274.80,597.00 C275.86,598.72 277.38,600.81 278.58,602.77 C279.78,604.73 281.14,606.76 282.00,608.75 C282.86,610.74 282.91,612.78 283.71,614.68 C284.51,616.58 286.10,618.21 286.81,620.14 C287.53,622.07 287.79,624.38 288.00,626.25 C288.21,628.12 287.97,629.66 288.07,631.36 C288.17,633.07 288.49,634.77 288.60,636.48 C288.70,638.18 288.79,639.88 288.69,641.59 C288.59,643.29 288.11,645.85 288.00,646.70" fill="none" stroke="#d3cba3" stroke-width="1.6" stroke-linecap="round" stroke-linejoin="round"/><path d="M267.50,582.50 C268.42,582.87 271.35,583.69 273.02,584.74 C274.69,585.78 275.81,587.78 277.51,588.77 C279.21,589.76 281.46,589.79 283.21,590.70 C284.95,591.60 286.60,592.93 288.00,594.20 C289.40,595.47 290.51,596.87 291.61,598.30 C292.72,599.74 293.72,601.26 294.66,602.83 C295.59,604.40 296.16,606.25 297.21,607.72 C298.27,609.20 300.10,610.18 301.00,611.70 C301.90,613.22 302.32,615.08 302.62,616.84 C302.93,618.59 302.70,620.43 302.85,622.20 C303.00,623.98 303.39,625.72 303.55,627.49 C303.72,629.27 303.53,631.10 303.84,632.85 C304.15,634.60 305.14,637.14 305.40,638.00" fill="none" stroke="#d3cba3" stroke-width="1.6" stroke-linecap="round" stroke-linejoin="round"/><path d="M288.00,594.20 C288.77,594.98 291.03,597.40 292.63,598.90 C294.22,600.41 295.85,601.88 297.57,603.23 C299.30,604.58 301.62,605.65 303.00,607.00 C304.38,608.35 304.99,609.82 305.85,611.31 C306.70,612.79 307.32,614.41 308.13,615.93 C308.95,617.44 309.91,618.86 310.72,620.38 C311.53,621.89 312.31,623.28 313.00,625.00 C313.69,626.72 314.16,628.85 314.87,630.71 C315.58,632.58 316.22,634.48 317.25,636.19 C318.28,637.91 320.11,639.26 321.07,641.01 C322.03,642.76 322.68,645.75 323.00,646.70" fill="none" stroke="#d3cba3" stroke-width="1.5" stroke-linecap="round" stroke-linejoin="round"/><path d="M261.70,623.30 C262.27,624.07 264.07,626.31 265.10,627.90 C266.14,629.50 267.03,631.17 267.92,632.85 C268.80,634.54 269.29,636.36 270.40,638.00 C271.51,639.64 273.32,641.04 274.58,642.71 C275.85,644.38 276.84,646.26 278.00,648.00 C279.16,649.74 280.36,651.42 281.52,653.13 C282.69,654.85 284.42,657.44 285.00,658.30" fill="none" stroke="#d3cba3" stroke-width="1.5" stroke-linecap="round" stroke-linejoin="round"/><path d="M274.80,597.00 C274.95,597.84 275.28,600.38 275.71,602.03 C276.13,603.69 276.97,605.25 277.35,606.91 C277.73,608.57 277.91,609.96 278.00,612.00 C278.09,614.04 278.22,616.79 277.88,619.13 C277.55,621.46 276.31,624.85 276.00,626.00" fill="none" stroke="#d3cba3" stroke-width="1.1" stroke-linecap="round" stroke-linejoin="round"/><path d="M241.25,598.50 C240.38,599.42 237.54,601.75 236.00,604.00 C234.46,606.25 232.67,610.67 232.00,612.00" fill="none" stroke="#d3cba3" stroke-width="1.0" stroke-linecap="round" stroke-linejoin="round"/><path d="M209.20,594.20 C207.67,593.92 202.36,592.63 200.00,592.50 C197.64,592.37 196.69,593.14 195.02,593.39 C193.35,593.64 190.84,593.90 190.00,594.00" fill="none" stroke="#d3cba3" stroke-width="1.1" stroke-linecap="round" stroke-linejoin="round"/><path d="M231.00,620.40 C229.83,620.17 226.50,618.57 224.00,619.00 C221.50,619.43 217.33,622.33 216.00,623.00" fill="none" stroke="#d3cba3" stroke-width="1.0" stroke-linecap="round" stroke-linejoin="round"/><path d="M247.00,638.00 C246.79,638.84 246.23,641.40 245.73,643.07 C245.23,644.73 244.95,646.18 244.00,648.00 C243.05,649.82 240.67,653.00 240.00,654.00" fill="none" stroke="#d3cba3" stroke-width="1.0" stroke-linecap="round" stroke-linejoin="round"/><path d="M282.00,585.40 C283.08,585.80 286.29,587.05 288.46,587.81 C290.63,588.58 293.61,588.74 295.00,590.00 C296.39,591.26 295.94,593.70 296.77,595.36 C297.60,597.03 299.46,599.23 300.00,600.00" fill="none" stroke="#d3cba3" stroke-width="1.0" stroke-linecap="round" stroke-linejoin="round"/><path d="M301.00,611.70 C300.17,613.08 296.97,617.79 296.00,620.00 C295.03,622.21 295.33,623.30 295.16,624.97 C294.99,626.63 295.03,629.16 295.00,630.00" fill="none" stroke="#d3cba3" stroke-width="1.0" stroke-linecap="round" stroke-linejoin="round"/><path d="M241.25,626.25 C240.81,627.39 239.47,630.82 238.60,633.12 C237.72,635.41 237.12,638.21 236.00,640.00 C234.88,641.79 233.18,642.52 231.85,643.85 C230.52,645.18 228.64,647.31 228.00,648.00" fill="none" stroke="#d3cba3" stroke-width="1.1" stroke-linecap="round" stroke-linejoin="round"/><path d="M216.50,581.00 C215.53,581.20 212.59,581.69 210.67,582.19 C208.75,582.69 207.44,584.03 205.00,584.00 C202.56,583.97 197.50,582.33 196.00,582.00" fill="none" stroke="#d3cba3" stroke-width="1.0" stroke-linecap="round" stroke-linejoin="round"/><path d="M255.3,577 L264.8,577 L263,600 L261.6,630 L261.3,667 L260.4,667 L259.4,630 L257.5,600 Z" fill="url(#groot)"/><path d="M268.80,334.00 C267.97,340.00 265.32,358.50 263.80,370.00 C262.28,381.50 261.08,391.83 259.70,403.00 C258.32,414.17 256.73,425.83 255.50,437.00 C254.27,448.17 252.95,460.33 252.30,470.00 C251.65,479.67 251.68,485.00 251.60,495.00 C251.52,505.00 251.67,519.00 251.80,530.00 C251.93,541.00 251.90,552.67 252.40,561.00 C252.90,569.33 254.40,576.83 254.80,580.00 L264.30,580.00 C264.45,576.83 265.08,569.33 265.20,561.00 C265.32,552.67 265.08,541.00 265.00,530.00 C264.92,519.00 264.48,507.50 264.70,495.00 C264.92,482.50 265.75,464.67 266.30,455.00 C266.85,445.33 267.43,445.67 268.00,437.00 C268.57,428.33 269.15,414.17 269.70,403.00 C270.25,391.83 270.62,381.50 271.30,370.00 C271.98,358.50 273.38,340.00 273.80,334.00Z" fill="url(#gstem)"/><path d="M262,398 C258,430 254.5,460 254,495 C254,530 255,560 256.5,579 L254.8,580 C253,560 251.8,530 251.6,495 C252,460 256,430 262,398 Z" fill="#3b8a2a" opacity="0.8"/><path d="M202.50,254.60 C203.90,254.60 213.17,257.78 217.80,259.40 C222.43,261.02 226.60,262.53 230.30,264.30 C234.00,266.07 237.45,267.80 240.00,270.00 C242.55,272.20 243.77,275.33 245.60,277.50 C247.43,279.67 248.00,280.92 251.00,283.00 C254.00,285.08 260.33,287.90 263.60,290.00 C266.87,292.10 269.10,293.77 270.60,295.60 C272.10,297.43 273.07,298.81 272.60,301.00 C272.13,303.19 270.45,308.03 267.80,308.75 C265.15,309.47 259.50,307.04 256.70,305.30 C253.90,303.56 253.55,300.38 251.00,298.30 C248.45,296.22 243.70,294.88 241.40,292.80 C239.10,290.72 238.82,288.35 237.20,285.80 C235.58,283.25 234.47,280.50 231.70,277.50 C228.93,274.50 224.32,270.82 220.60,267.80 C216.88,264.78 212.42,261.60 209.40,259.40 C206.38,257.20 201.10,254.60 202.50,254.60Z" fill="#78c232" stroke="#4a8c26" stroke-width="1.1" stroke-linejoin="round"/><path d="M232.00,270.00 C232.67,269.00 239.67,275.00 242.00,278.00 C244.33,281.00 246.67,287.00 246.00,288.00 C245.33,289.00 240.33,287.00 238.00,284.00 C235.67,281.00 231.33,271.00 232.00,270.00Z" fill="#96d53e" opacity="0.75"/><path d="M253.00,294.00 C254.67,293.67 262.50,296.33 264.00,298.00 C265.50,299.67 263.67,303.67 262.00,304.00 C260.33,304.33 255.50,301.67 254.00,300.00 C252.50,298.33 251.33,294.33 253.00,294.00Z" fill="#96d53e" opacity="0.75"/><path d="M203.00,255.00 C206.67,256.83 218.33,261.50 225.00,266.00 C231.67,270.50 237.17,276.67 243.00,282.00 C248.83,287.33 255.83,294.00 260.00,298.00 C264.17,302.00 266.67,304.67 268.00,306.00" fill="none" stroke="#2f861a" stroke-width="1.1"/><path d="M236.00,275.00 C236.33,274.17 237.67,270.83 238.00,270.00" fill="none" stroke="#2f861a" stroke-width="0.8"/><path d="M250.00,290.00 C250.83,289.50 254.17,287.50 255.00,287.00" fill="none" stroke="#2f861a" stroke-width="0.8"/><path d="M269.20,328.90 C268.28,325.90 269.82,318.93 270.50,315.00 C271.18,311.07 271.67,308.53 273.30,305.30 C274.93,302.07 277.52,298.62 280.30,295.60 C283.08,292.58 286.55,290.47 290.00,287.20 C293.45,283.93 297.30,279.23 301.00,276.00 C304.70,272.77 308.93,270.22 312.20,267.80 C315.47,265.38 318.47,262.30 320.60,261.50 C322.73,260.70 323.60,261.72 325.00,263.00 C326.40,264.28 327.43,268.28 329.00,269.20 C330.57,270.12 333.15,267.58 334.40,268.50 C335.65,269.42 336.03,272.73 336.50,274.70 C336.97,276.67 336.38,278.45 337.20,280.30 C338.02,282.15 342.77,284.42 341.40,285.80 C340.03,287.18 332.23,287.43 329.00,288.60 C325.77,289.77 325.50,291.18 322.00,292.80 C318.50,294.42 311.95,295.53 308.00,298.30 C304.05,301.07 300.37,306.15 298.30,309.40 C296.23,312.65 297.45,314.55 295.60,317.80 C293.75,321.05 290.47,326.37 287.20,328.90 C283.93,331.43 279.00,333.00 276.00,333.00 C273.00,333.00 270.12,331.90 269.20,328.90Z" fill="#78c232" stroke="#4a8c26" stroke-width="1.1" stroke-linejoin="round"/><path d="M300.00,282.00 C299.83,280.33 310.83,274.00 315.00,272.00 C319.17,270.00 324.83,268.33 325.00,270.00 C325.17,271.67 320.17,280.00 316.00,282.00 C311.83,284.00 300.17,283.67 300.00,282.00Z" fill="#96d53e" opacity="0.75"/><path d="M280.00,310.00 C281.67,305.83 290.33,298.67 292.00,300.00 C293.67,301.33 291.67,313.83 290.00,318.00 C288.33,322.17 283.67,326.33 282.00,325.00 C280.33,323.67 278.33,314.17 280.00,310.00Z" fill="#96d53e" opacity="0.75"/><path d="M270.00,330.00 C272.50,326.67 279.17,316.33 285.00,310.00 C290.83,303.67 298.33,296.67 305.00,292.00 C311.67,287.33 319.17,283.17 325.00,282.00 C330.83,280.83 337.50,284.50 340.00,285.00" fill="none" stroke="#2f861a" stroke-width="1.1"/><path d="M283.00,313.00 C283.33,311.33 284.67,304.67 285.00,303.00" fill="none" stroke="#2f861a" stroke-width="0.8"/><path d="M295.00,300.00 C295.33,298.33 296.67,291.67 297.00,290.00" fill="none" stroke="#2f861a" stroke-width="0.8"/><path d="M310.00,290.00 C310.33,288.33 311.67,281.67 312.00,280.00" fill="none" stroke="#2f861a" stroke-width="0.8"/><path d="M292.00,305.00 C293.33,306.17 298.67,310.83 300.00,312.00" fill="none" stroke="#2f861a" stroke-width="0.8"/><path d="M306.00,295.00 C307.50,295.17 313.50,295.83 315.00,296.00" fill="none" stroke="#2f861a" stroke-width="0.8"/><path d="M151.90,323.75 C152.53,322.92 156.57,320.00 158.75,317.50 C160.93,315.00 162.71,311.25 165.00,308.75 C167.29,306.25 169.58,303.86 172.50,302.50 C175.42,301.14 179.17,301.64 182.50,300.60 C185.83,299.56 188.75,297.39 192.50,296.25 C196.25,295.11 200.21,294.48 205.00,293.75 C209.79,293.02 217.08,291.48 221.25,291.90 C225.42,292.32 226.88,294.27 230.00,296.25 C233.12,298.23 237.29,301.56 240.00,303.75 C242.71,305.94 243.75,308.46 246.25,309.40 C248.75,310.34 252.29,308.88 255.00,309.40 C257.71,309.92 260.62,311.15 262.50,312.50 C264.38,313.85 265.42,315.00 266.25,317.50 C267.08,320.00 267.08,324.58 267.50,327.50 C267.92,330.42 269.17,333.12 268.75,335.00 C268.33,336.88 265.83,336.88 265.00,338.75 C264.17,340.62 265.00,344.58 263.75,346.25 C262.50,347.92 259.79,348.96 257.50,348.75 C255.21,348.54 252.92,346.04 250.00,345.00 C247.08,343.96 243.75,342.71 240.00,342.50 C236.25,342.29 231.25,343.96 227.50,343.75 C223.75,343.54 220.83,341.88 217.50,341.25 C214.17,340.62 210.83,340.21 207.50,340.00 C204.17,339.79 200.83,340.83 197.50,340.00 C194.17,339.17 190.42,336.46 187.50,335.00 C184.58,333.54 182.71,333.12 180.00,331.25 C177.29,329.38 174.17,325.42 171.25,323.75 C168.33,322.08 165.21,321.46 162.50,321.25 C159.79,321.04 156.77,322.08 155.00,322.50 C153.23,322.92 151.28,324.58 151.90,323.75Z" fill="#78c232" stroke="#4a8c26" stroke-width="1.1" stroke-linejoin="round"/><path d="M200.00,300.00 C201.67,297.33 210.33,294.33 212.00,296.00 C213.67,297.67 211.67,307.33 210.00,310.00 C208.33,312.67 203.67,313.67 202.00,312.00 C200.33,310.33 198.33,302.67 200.00,300.00Z" fill="#96d53e" opacity="0.75"/><path d="M235.00,328.00 C237.33,327.33 247.83,331.67 250.00,334.00 C252.17,336.33 250.33,341.33 248.00,342.00 C245.67,342.67 238.17,340.33 236.00,338.00 C233.83,335.67 232.67,328.67 235.00,328.00Z" fill="#96d53e" opacity="0.75"/><path d="M218.00,326.00 C220.00,325.33 225.33,328.00 226.00,330.00 C226.67,332.00 224.00,337.33 222.00,338.00 C220.00,338.67 214.67,336.00 214.00,334.00 C213.33,332.00 216.00,326.67 218.00,326.00Z" fill="#96d53e" opacity="0.75"/><path d="M153.00,322.50 C156.67,321.75 168.42,319.08 175.00,318.00 C181.58,316.92 186.67,316.33 192.50,316.00 C198.33,315.67 204.17,315.54 210.00,316.00 C215.83,316.46 221.67,317.25 227.50,318.75 C233.33,320.25 239.58,322.71 245.00,325.00 C250.42,327.29 256.17,330.67 260.00,332.50 C263.83,334.33 266.67,335.42 268.00,336.00" fill="none" stroke="#2f861a" stroke-width="1.1"/><path d="M205.00,316.00 C204.17,314.17 201.50,308.00 200.00,305.00 C198.50,302.00 196.67,299.17 196.00,298.00" fill="none" stroke="#2f861a" stroke-width="0.8"/><path d="M218.00,317.00 C217.50,315.00 215.83,308.67 215.00,305.00 C214.17,301.33 213.33,296.67 213.00,295.00" fill="none" stroke="#2f861a" stroke-width="0.8"/><path d="M233.00,321.00 C232.83,319.17 232.83,313.50 232.00,310.00 C231.17,306.50 228.67,301.67 228.00,300.00" fill="none" stroke="#2f861a" stroke-width="0.8"/><path d="M248.00,327.00 C248.00,325.33 247.67,319.67 248.00,317.00 C248.33,314.33 249.67,312.00 250.00,311.00" fill="none" stroke="#2f861a" stroke-width="0.8"/><path d="M200.00,317.00 C199.17,318.83 196.67,325.17 195.00,328.00 C193.33,330.83 190.83,333.00 190.00,334.00" fill="none" stroke="#2f861a" stroke-width="0.8"/><path d="M222.00,319.00 C220.83,320.83 217.00,326.67 215.00,330.00 C213.00,333.33 210.83,337.50 210.00,339.00" fill="none" stroke="#2f861a" stroke-width="0.8"/><path d="M240.00,323.00 C239.17,324.83 236.67,330.83 235.00,334.00 C233.33,337.17 230.83,340.67 230.00,342.00" fill="none" stroke="#2f861a" stroke-width="0.8"/><path d="M255.00,330.00 C254.83,331.67 254.50,337.33 254.00,340.00 C253.50,342.67 252.33,345.00 252.00,346.00" fill="none" stroke="#2f861a" stroke-width="0.8"/><path d="M268.40,391.00 C268.65,385.63 269.05,373.85 270.70,368.00 C272.35,362.15 274.98,359.20 278.30,355.90 C281.62,352.60 286.52,349.73 290.60,348.20 C294.68,346.67 299.50,347.47 302.80,346.70 C306.10,345.93 307.60,345.63 310.40,343.60 C313.20,341.57 316.28,337.30 319.60,334.50 C322.92,331.70 326.48,328.47 330.30,326.80 C334.12,325.13 338.93,324.50 342.50,324.50 C346.07,324.50 348.90,325.38 351.70,326.80 C354.50,328.22 356.75,330.97 359.30,333.00 C361.85,335.03 364.22,337.73 367.00,339.00 C369.78,340.27 373.45,339.32 376.00,340.60 C378.55,341.88 380.23,343.90 382.30,346.70 C384.37,349.50 385.98,353.72 388.40,357.40 C390.82,361.08 397.07,367.03 396.80,368.80 C396.53,370.57 390.50,368.13 386.80,368.00 C383.10,367.87 378.40,367.73 374.60,368.00 C370.80,368.27 367.82,370.10 364.00,369.60 C360.18,369.10 355.28,366.02 351.70,365.00 C348.12,363.98 345.30,362.73 342.50,363.50 C339.70,364.27 337.18,367.05 334.90,369.60 C332.62,372.15 331.10,375.73 328.80,378.80 C326.50,381.87 322.90,384.97 321.10,388.00 C319.30,391.03 320.02,394.20 318.00,397.00 C315.98,399.80 312.30,402.75 309.00,404.80 C305.70,406.85 302.03,408.28 298.20,409.30 C294.37,410.32 289.82,411.15 286.00,410.90 C282.18,410.65 278.10,409.58 275.30,407.80 C272.50,406.02 270.35,403.00 269.20,400.20 C268.05,397.40 268.15,396.37 268.40,391.00Z" fill="#78c232" stroke="#4a8c26" stroke-width="1.1" stroke-linejoin="round"/><path d="M283.00,360.00 C284.33,357.33 293.17,351.67 296.00,352.00 C298.83,352.33 301.33,359.33 300.00,362.00 C298.67,364.67 290.83,368.33 288.00,368.00 C285.17,367.67 281.67,362.67 283.00,360.00Z" fill="#96d53e" opacity="0.75"/><path d="M290.00,388.00 C292.17,384.83 302.50,383.00 305.00,385.00 C307.50,387.00 307.17,396.83 305.00,400.00 C302.83,403.17 294.50,406.00 292.00,404.00 C289.50,402.00 287.83,391.17 290.00,388.00Z" fill="#96d53e" opacity="0.75"/><path d="M340.00,335.00 C341.17,332.50 349.00,329.17 352.00,330.00 C355.00,330.83 359.17,337.50 358.00,340.00 C356.83,342.50 348.00,345.83 345.00,345.00 C342.00,344.17 338.83,337.50 340.00,335.00Z" fill="#96d53e" opacity="0.75"/><path d="M269.20,391.00 C271.33,389.17 277.67,383.32 282.00,380.00 C286.33,376.68 290.53,373.60 295.20,371.10 C299.87,368.60 305.17,366.78 310.00,365.00 C314.83,363.22 319.53,361.90 324.20,360.40 C328.87,358.90 333.42,357.13 338.00,356.00 C342.58,354.87 346.03,353.27 351.70,353.60 C357.37,353.93 364.87,355.60 372.00,358.00 C379.13,360.40 390.75,366.33 394.50,368.00" fill="none" stroke="#2f861a" stroke-width="1.1"/><path d="M282.00,380.00 C281.33,377.50 278.00,368.67 278.00,365.00 C278.00,361.33 281.33,359.17 282.00,358.00" fill="none" stroke="#2f861a" stroke-width="0.8"/><path d="M295.00,371.00 C294.67,369.17 292.83,363.50 293.00,360.00 C293.17,356.50 295.50,351.67 296.00,350.00" fill="none" stroke="#2f861a" stroke-width="0.8"/><path d="M312.00,364.00 C312.17,362.00 312.00,356.00 313.00,352.00 C314.00,348.00 317.17,342.00 318.00,340.00" fill="none" stroke="#2f861a" stroke-width="0.8"/><path d="M335.00,357.00 C335.50,355.00 336.67,349.17 338.00,345.00 C339.33,340.83 342.17,334.17 343.00,332.00" fill="none" stroke="#2f861a" stroke-width="0.8"/><path d="M355.00,354.00 C355.83,352.50 358.33,347.33 360.00,345.00 C361.67,342.67 364.17,340.83 365.00,340.00" fill="none" stroke="#2f861a" stroke-width="0.8"/><path d="M372.00,358.00 C373.00,357.00 376.33,353.67 378.00,352.00 C379.67,350.33 381.33,348.67 382.00,348.00" fill="none" stroke="#2f861a" stroke-width="0.8"/><path d="M285.00,378.00 C285.83,380.33 288.83,387.50 290.00,392.00 C291.17,396.50 291.67,402.83 292.00,405.00" fill="none" stroke="#2f861a" stroke-width="0.8"/><path d="M302.00,368.00 C303.00,370.33 306.67,377.00 308.00,382.00 C309.33,387.00 309.67,395.33 310.00,398.00" fill="none" stroke="#2f861a" stroke-width="0.8"/><path d="M320.00,362.00 C320.83,363.67 323.83,369.00 325.00,372.00 C326.17,375.00 326.67,378.67 327.00,380.00" fill="none" stroke="#2f861a" stroke-width="0.8"/><path d="M350.00,354.00 C350.83,355.33 353.33,359.83 355.00,362.00 C356.67,364.17 359.17,366.17 360.00,367.00" fill="none" stroke="#2f861a" stroke-width="0.8"/><path d="M135.00,465.00 C134.32,462.77 134.20,453.85 134.20,448.30 C134.20,442.75 133.75,436.42 135.00,431.70 C136.25,426.98 139.20,424.17 141.70,420.00 C144.20,415.83 147.50,410.87 150.00,406.70 C152.50,402.53 154.48,398.90 156.70,395.00 C158.92,391.10 160.80,387.18 163.30,383.30 C165.80,379.42 168.37,374.47 171.70,371.70 C175.03,368.93 178.87,367.53 183.30,366.70 C187.73,365.87 193.85,367.82 198.30,366.70 C202.75,365.58 206.38,361.82 210.00,360.00 C213.62,358.18 216.67,356.63 220.00,355.80 C223.33,354.97 226.67,354.30 230.00,355.00 C233.33,355.70 237.50,357.50 240.00,360.00 C242.50,362.50 243.62,366.95 245.00,370.00 C246.38,373.05 247.47,375.25 248.30,378.30 C249.13,381.35 250.00,385.52 250.00,388.30 C250.00,391.08 250.52,393.33 248.30,395.00 C246.08,396.67 240.58,396.63 236.70,398.30 C232.82,399.97 228.33,402.22 225.00,405.00 C221.67,407.78 219.75,412.22 216.70,415.00 C213.65,417.78 210.03,419.75 206.70,421.70 C203.37,423.65 199.48,424.20 196.70,426.70 C193.92,429.20 192.23,434.20 190.00,436.70 C187.77,439.20 186.63,440.32 183.30,441.70 C179.97,443.08 174.43,443.90 170.00,445.00 C165.57,446.10 160.58,446.92 156.70,448.30 C152.82,449.68 149.77,451.07 146.70,453.30 C143.63,455.53 140.25,459.75 138.30,461.70 C136.35,463.65 135.68,467.23 135.00,465.00Z" fill="#78c232" stroke="#4a8c26" stroke-width="1.1" stroke-linejoin="round"/><path d="M150.00,425.00 C151.67,420.83 159.50,414.17 162.00,415.00 C164.50,415.83 166.67,425.83 165.00,430.00 C163.33,434.17 154.50,440.83 152.00,440.00 C149.50,439.17 148.33,429.17 150.00,425.00Z" fill="#96d53e" opacity="0.75"/><path d="M195.00,375.00 C197.00,372.50 207.17,368.83 210.00,370.00 C212.83,371.17 214.00,379.50 212.00,382.00 C210.00,384.50 200.83,386.17 198.00,385.00 C195.17,383.83 193.00,377.50 195.00,375.00Z" fill="#96d53e" opacity="0.75"/><path d="M228.00,385.00 C229.67,382.83 237.67,380.83 240.00,382.00 C242.33,383.17 243.67,389.83 242.00,392.00 C240.33,394.17 232.33,396.17 230.00,395.00 C227.67,393.83 226.33,387.17 228.00,385.00Z" fill="#96d53e" opacity="0.75"/><path d="M180.00,420.00 C181.67,416.67 192.00,411.17 195.00,412.00 C198.00,412.83 199.67,421.67 198.00,425.00 C196.33,428.33 188.00,432.83 185.00,432.00 C182.00,431.17 178.33,423.33 180.00,420.00Z" fill="#96d53e" opacity="0.75"/><path d="M135.80,463.30 C138.17,459.42 144.30,447.77 150.00,440.00 C155.70,432.23 164.00,422.87 170.00,416.70 C176.00,410.53 180.45,407.17 186.00,403.00 C191.55,398.83 196.80,395.37 203.30,391.70 C209.80,388.03 218.05,383.78 225.00,381.00 C231.95,378.22 241.67,376.00 245.00,375.00" fill="none" stroke="#2f861a" stroke-width="1.1"/><path d="M150.00,440.00 C148.67,438.67 143.33,433.33 142.00,432.00" fill="none" stroke="#2f861a" stroke-width="0.8"/><path d="M160.00,428.00 C158.67,425.83 153.33,417.17 152.00,415.00" fill="none" stroke="#2f861a" stroke-width="0.8"/><path d="M172.00,415.00 C171.00,412.17 167.00,403.00 166.00,398.00 C165.00,393.00 166.00,387.17 166.00,385.00" fill="none" stroke="#2f861a" stroke-width="0.8"/><path d="M188.00,401.00 C187.50,398.33 185.33,389.83 185.00,385.00 C184.67,380.17 185.83,374.17 186.00,372.00" fill="none" stroke="#2f861a" stroke-width="0.8"/><path d="M205.00,391.00 C205.00,388.83 204.17,382.33 205.00,378.00 C205.83,373.67 209.17,367.17 210.00,365.00" fill="none" stroke="#2f861a" stroke-width="0.8"/><path d="M225.00,381.00 C225.50,379.17 226.83,373.50 228.00,370.00 C229.17,366.50 231.33,361.67 232.00,360.00" fill="none" stroke="#2f861a" stroke-width="0.8"/><path d="M160.00,428.00 C161.33,429.67 166.00,435.33 168.00,438.00 C170.00,440.67 171.33,443.00 172.00,444.00" fill="none" stroke="#2f861a" stroke-width="0.8"/><path d="M180.00,408.00 C181.33,410.00 186.33,416.00 188.00,420.00 C189.67,424.00 189.67,430.00 190.00,432.00" fill="none" stroke="#2f861a" stroke-width="0.8"/><path d="M197.00,396.00 C198.33,398.00 203.17,404.00 205.00,408.00 C206.83,412.00 207.50,418.00 208.00,420.00" fill="none" stroke="#2f861a" stroke-width="0.8"/><path d="M215.00,386.00 C216.17,387.50 220.33,392.33 222.00,395.00 C223.67,397.67 224.50,400.83 225.00,402.00" fill="none" stroke="#2f861a" stroke-width="0.8"/><path d="M232.00,378.00 C233.00,379.17 236.33,382.50 238.00,385.00 C239.67,387.50 241.33,391.67 242.00,393.00" fill="none" stroke="#2f861a" stroke-width="0.8"/><path d="M246,374 C252,377 257,381 262,386" fill="none" stroke="#5a9a2c" stroke-width="2.2"/><path d="M150.30,518.40 C149.99,516.84 154.55,509.23 156.90,504.40 C159.25,499.57 162.22,494.09 164.40,489.40 C166.58,484.71 167.82,480.00 170.00,476.25 C172.18,472.50 174.38,469.09 177.50,466.90 C180.62,464.71 184.68,463.73 188.75,463.10 C192.82,462.47 198.15,463.72 201.90,463.10 C205.65,462.48 208.13,461.27 211.25,459.40 C214.37,457.53 217.16,453.78 220.60,451.90 C224.04,450.02 228.15,448.42 231.90,448.10 C235.65,447.78 239.98,448.58 243.10,450.00 C246.22,451.42 248.41,454.88 250.60,456.60 C252.79,458.32 254.06,458.90 256.25,460.30 C258.44,461.70 261.73,462.65 263.75,465.00 C265.77,467.35 268.09,471.27 268.40,474.40 C268.71,477.52 267.32,481.57 265.60,483.75 C263.88,485.93 260.91,486.73 258.10,487.50 C255.29,488.27 251.56,487.47 248.75,488.40 C245.94,489.33 244.38,491.68 241.25,493.10 C238.12,494.52 234.38,496.43 230.00,496.90 C225.62,497.37 219.68,497.15 215.00,495.90 C210.32,494.65 205.65,490.17 201.90,489.40 C198.15,488.62 195.63,489.69 192.50,491.25 C189.37,492.81 186.53,496.25 183.10,498.75 C179.67,501.25 175.96,503.75 171.90,506.25 C167.84,508.75 162.35,511.73 158.75,513.75 C155.15,515.77 150.61,519.96 150.30,518.40Z" fill="#78c232" stroke="#4a8c26" stroke-width="1.1" stroke-linejoin="round"/><path d="M230.00,470.00 C232.00,466.83 242.17,464.33 245.00,466.00 C247.83,467.67 249.00,476.83 247.00,480.00 C245.00,483.17 235.83,486.67 233.00,485.00 C230.17,483.33 228.00,473.17 230.00,470.00Z" fill="#96d53e" opacity="0.75"/><path d="M205.00,476.00 C207.00,474.00 216.00,472.00 218.00,474.00 C220.00,476.00 219.00,486.00 217.00,488.00 C215.00,490.00 208.00,488.00 206.00,486.00 C204.00,484.00 203.00,478.00 205.00,476.00Z" fill="#96d53e" opacity="0.75"/><path d="M248.00,458.00 C249.33,456.00 257.67,462.67 260.00,466.00 C262.33,469.33 263.33,476.00 262.00,478.00 C260.67,480.00 254.33,481.33 252.00,478.00 C249.67,474.67 246.67,460.00 248.00,458.00Z" fill="#96d53e" opacity="0.75"/><path d="M151.25,517.50 C154.38,513.75 162.50,502.18 170.00,495.00 C177.50,487.82 187.08,479.57 196.25,474.40 C205.42,469.23 215.94,466.50 225.00,464.00 C234.06,461.50 244.10,459.57 250.60,459.40 C257.10,459.23 261.77,462.40 264.00,463.00" fill="none" stroke="#2f861a" stroke-width="1.1"/><path d="M170.00,495.00 C169.67,493.33 168.33,486.67 168.00,485.00" fill="none" stroke="#2f861a" stroke-width="0.8"/><path d="M185.00,483.00 C184.50,480.83 182.50,472.17 182.00,470.00" fill="none" stroke="#2f861a" stroke-width="0.8"/><path d="M205.00,470.00 C205.00,468.67 205.00,463.33 205.00,462.00" fill="none" stroke="#2f861a" stroke-width="0.8"/><path d="M225.00,464.00 C225.50,462.50 227.50,456.50 228.00,455.00" fill="none" stroke="#2f861a" stroke-width="0.8"/><path d="M185.00,483.00 C186.17,484.17 190.83,488.83 192.00,490.00" fill="none" stroke="#2f861a" stroke-width="0.8"/><path d="M212.00,468.00 C213.67,470.00 219.83,476.00 222.00,480.00 C224.17,484.00 224.50,490.00 225.00,492.00" fill="none" stroke="#2f861a" stroke-width="0.8"/><path d="M238.00,461.00 C239.17,462.50 243.50,466.50 245.00,470.00 C246.50,473.50 246.67,480.00 247.00,482.00" fill="none" stroke="#2f861a" stroke-width="0.8"/><path d="M265.60,463.10 C265.91,458.73 269.37,453.75 271.25,450.00 C273.13,446.25 274.40,442.78 276.90,440.60 C279.40,438.42 282.50,437.21 286.25,436.90 C290.00,436.59 295.65,438.92 299.40,438.75 C303.15,438.58 305.63,436.06 308.75,435.90 C311.87,435.74 315.29,436.38 318.10,437.80 C320.91,439.22 322.47,442.53 325.60,444.40 C328.73,446.27 333.46,447.90 336.90,449.00 C340.34,450.10 343.44,449.58 346.25,451.00 C349.06,452.42 351.88,454.54 353.75,457.50 C355.62,460.46 355.62,465.62 357.50,468.75 C359.38,471.88 361.88,473.44 365.00,476.25 C368.12,479.06 376.88,484.35 376.25,485.60 C375.62,486.85 366.25,484.06 361.25,483.75 C356.25,483.44 350.94,483.44 346.25,483.75 C341.56,484.06 337.48,484.35 333.10,485.60 C328.73,486.85 324.06,489.85 320.00,491.25 C315.94,492.65 312.82,494.00 308.75,494.00 C304.68,494.00 299.35,492.96 295.60,491.25 C291.85,489.54 289.68,485.62 286.25,483.75 C282.82,481.88 277.81,481.25 275.00,480.00 C272.19,478.75 270.97,479.07 269.40,476.25 C267.83,473.43 265.29,467.48 265.60,463.10Z" fill="#78c232" stroke="#4a8c26" stroke-width="1.1" stroke-linejoin="round"/><path d="M292.00,462.00 C293.33,459.33 298.67,459.33 300.00,462.00 C301.33,464.67 301.33,475.33 300.00,478.00 C298.67,480.67 293.33,480.67 292.00,478.00 C290.67,475.33 290.67,464.67 292.00,462.00Z" fill="#96d53e" opacity="0.75"/><path d="M310.00,462.00 C311.33,459.00 316.67,459.00 318.00,462.00 C319.33,465.00 319.33,477.00 318.00,480.00 C316.67,483.00 311.33,483.00 310.00,480.00 C308.67,477.00 308.67,465.00 310.00,462.00Z" fill="#96d53e" opacity="0.75"/><path d="M328.00,465.00 C329.67,463.33 336.83,465.50 338.00,468.00 C339.17,470.50 336.67,478.33 335.00,480.00 C333.33,481.67 329.17,480.50 328.00,478.00 C326.83,475.50 326.33,466.67 328.00,465.00Z" fill="#96d53e" opacity="0.75"/><path d="M275.00,445.00 C276.67,442.83 283.83,440.33 285.00,442.00 C286.17,443.67 283.67,452.83 282.00,455.00 C280.33,457.17 276.17,456.67 275.00,455.00 C273.83,453.33 273.33,447.17 275.00,445.00Z" fill="#96d53e" opacity="0.75"/><path d="M267.50,455.60 C271.25,455.67 282.92,455.77 290.00,456.00 C297.08,456.23 303.75,456.43 310.00,457.00 C316.25,457.57 320.83,457.23 327.50,459.40 C334.17,461.57 342.18,465.78 350.00,470.00 C357.82,474.22 370.33,482.25 374.40,484.70" fill="none" stroke="#2f861a" stroke-width="1.1"/><path d="M285.00,456.00 C285.00,454.17 285.00,446.83 285.00,445.00" fill="none" stroke="#2f861a" stroke-width="0.8"/><path d="M300.00,456.00 C300.33,453.67 301.67,444.33 302.00,442.00" fill="none" stroke="#2f861a" stroke-width="0.8"/><path d="M318.00,458.00 C318.67,456.00 321.33,448.00 322.00,446.00" fill="none" stroke="#2f861a" stroke-width="0.8"/><path d="M338.00,463.00 C339.17,461.67 343.83,456.33 345.00,455.00" fill="none" stroke="#2f861a" stroke-width="0.8"/><path d="M285.00,456.00 C285.00,458.33 284.50,465.67 285.00,470.00 C285.50,474.33 287.50,480.00 288.00,482.00" fill="none" stroke="#2f861a" stroke-width="0.8"/><path d="M300.00,457.00 C300.50,459.50 301.83,466.83 303.00,472.00 C304.17,477.17 306.33,485.33 307.00,488.00" fill="none" stroke="#2f861a" stroke-width="0.8"/><path d="M318.00,458.00 C318.67,460.33 321.33,467.33 322.00,472.00 C322.67,476.67 322.00,483.67 322.00,486.00" fill="none" stroke="#2f861a" stroke-width="0.8"/><path d="M338.00,464.00 C338.33,465.83 340.00,471.83 340.00,475.00 C340.00,478.17 338.33,481.67 338.00,483.00" fill="none" stroke="#2f861a" stroke-width="0.8"/><line x1="263" y1="210.7" x2="263" y2="571" stroke="#f0962a" stroke-width="2.3" stroke-dasharray="12 11.9" stroke-dashoffset="5.7"/><use href="#tmv" transform="translate(374.5,228.3) rotate(-11)"/><use href="#tmv" transform="translate(165.1,338.2) rotate(-56) scale(0.95,1.0)"/><use href="#tmv" transform="translate(165.4,400.5) rotate(-54) scale(0.95,1.0)"/><path d="M371.5,218.8 C355,215 334,222 321.6,250" fill="none" stroke="#f0962a" stroke-width="2.3"/><line x1="314" y1="247.3" x2="327.8" y2="253.6" stroke="#f0962a" stroke-width="2.3"/><path d="M332.97,326.68 L334.01,324.12 L335.16,321.58 L336.39,319.05 L337.73,316.52 L339.16,314.02 L340.68,311.53 L342.29,309.07 L343.99,306.63 L345.77,304.22 L347.64,301.84 L349.58,299.51 L351.61,297.21 L353.72,294.95 L355.90,292.75 L358.16,290.59 L360.49,288.49 L362.89,286.45 L365.36,284.47 L367.89,282.56 L370.49,280.71 L373.15,278.94 L375.87,277.24 L378.64,275.63 L381.48,274.09 L384.36,272.64 L387.30,271.29 L390.29,270.02 L393.33,268.85 L396.41,267.79 L399.53,266.82 L402.70,265.97 L405.91,265.22 L409.15,264.59 L412.43,264.07 L415.75,263.67 L419.09,263.40 L422.47,263.25 L425.88,263.23 L429.31,263.34 L432.84,263.60 L433.16,257.40 L429.52,257.28 L425.85,257.29 L422.22,257.44 L418.63,257.74 L415.08,258.16 L411.58,258.72 L408.13,259.40 L404.73,260.20 L401.38,261.11 L398.08,262.14 L394.83,263.28 L391.65,264.53 L388.52,265.87 L385.45,267.32 L382.44,268.85 L379.50,270.48 L376.62,272.19 L373.81,273.98 L371.06,275.85 L368.39,277.79 L365.78,279.80 L363.25,281.88 L360.79,284.02 L358.41,286.22 L356.11,288.47 L353.89,290.78 L351.74,293.13 L349.68,295.53 L347.71,297.96 L345.82,300.44 L344.02,302.94 L342.30,305.48 L340.68,308.03 L339.15,310.61 L337.72,313.21 L336.38,315.82 L335.14,318.44 L334.00,321.07 L332.96,323.70 L332.03,326.32Z" fill="#c69b6d"/><path d="M447,265.2 L435.3,246.3 L430.5,261 L426.3,276.8 Z" fill="#c69b6d"/><use href="#np" x="307.2" y="334.0" width="31" height="31"/><g transform="translate(516.5,269) rotate(51)"><rect x="-16.0" y="-5.5" width="32" height="11" rx="5.5" fill="#eef6c4" stroke="#4fa845" stroke-width="1.1"/><rect x="-14.0" y="-3.5" width="28" height="7" rx="3.5" fill="#d3d969"/><ellipse cx="11.0" cy="2.2" rx="1.6" ry="1.3" fill="#16442a"/></g><g transform="translate(532,292.5) rotate(57)"><rect x="-15.0" y="-5.5" width="30" height="11" rx="5.5" fill="#eef6c4" stroke="#4fa845" stroke-width="1.1"/><rect x="-13.0" y="-3.5" width="26" height="7" rx="3.5" fill="#d3d969"/><ellipse cx="10.0" cy="2.2" rx="1.6" ry="1.3" fill="#16442a"/></g><g transform="translate(559,360.5) rotate(70)"><rect x="-14.5" y="-6.0" width="29" height="12" rx="6.0" fill="#eef6c4" stroke="#4fa845" stroke-width="1.1"/><rect x="-12.5" y="-4.0" width="25" height="8" rx="4.0" fill="#d3d969"/><ellipse cx="9.5" cy="2.7" rx="1.6" ry="1.3" fill="#16442a"/></g><g transform="translate(566,387) rotate(78)"><rect x="-13.5" y="-6.5" width="27" height="13" rx="6.5" fill="#eef6c4" stroke="#4fa845" stroke-width="1.1"/><rect x="-11.5" y="-4.5" width="23" height="9" rx="4.5" fill="#d3d969"/><ellipse cx="8.5" cy="3.2" rx="1.6" ry="1.3" fill="#16442a"/></g><g transform="translate(572,414) rotate(82)"><rect x="-13.5" y="-6.75" width="27" height="13.5" rx="6.75" fill="#eef6c4" stroke="#4fa845" stroke-width="1.1"/><rect x="-11.5" y="-4.75" width="23" height="9.5" rx="4.75" fill="#d3d969"/><ellipse cx="8.5" cy="3.45" rx="1.6" ry="1.3" fill="#16442a"/></g><g transform="translate(617.3,235.2) rotate(-17)"><rect x="-13.5" y="-6.25" width="27" height="12.5" rx="6.25" fill="#b3e28c" stroke="#4fa845" stroke-width="1.1"/><rect x="-11.3" y="-4.05" width="22.6" height="8.1" rx="4.05" fill="none" stroke="#6cbf4e" stroke-width="1.2" stroke-dasharray="0.9 1.9"/><ellipse cx="0.5" cy="0" rx="9.2" ry="3.15" fill="#fdfff5"/></g><g transform="translate(622.4,248.9) rotate(-15)"><rect x="-17.0" y="-6.5" width="34" height="13" rx="6.5" fill="#b3e28c" stroke="#4fa845" stroke-width="1.1"/><rect x="-14.8" y="-4.3" width="29.6" height="8.6" rx="4.3" fill="none" stroke="#6cbf4e" stroke-width="1.2" stroke-dasharray="0.9 1.9"/><ellipse cx="0.5" cy="0" rx="12.7" ry="3.4" fill="#fdfff5"/></g><g transform="translate(630,261) rotate(-12)"><rect x="-15.5" y="-6.5" width="31" height="13" rx="6.5" fill="#b3e28c" stroke="#4fa845" stroke-width="1.1"/><rect x="-13.3" y="-4.3" width="26.6" height="8.6" rx="4.3" fill="none" stroke="#6cbf4e" stroke-width="1.2" stroke-dasharray="0.9 1.9"/><ellipse cx="0.5" cy="0" rx="11.2" ry="3.4" fill="#fdfff5"/></g><g transform="translate(637.6,272.5) rotate(-10)"><rect x="-16.0" y="-6.5" width="32" height="13" rx="6.5" fill="#b3e28c" stroke="#4fa845" stroke-width="1.1"/><rect x="-13.8" y="-4.3" width="27.6" height="8.6" rx="4.3" fill="none" stroke="#6cbf4e" stroke-width="1.2" stroke-dasharray="0.9 1.9"/><ellipse cx="0.5" cy="0" rx="11.7" ry="3.4" fill="#fdfff5"/></g><g transform="translate(640.4,286.7) rotate(-10)"><rect x="-17.5" y="-6.5" width="35" height="13" rx="6.5" fill="#b3e28c" stroke="#4fa845" stroke-width="1.1"/><rect x="-15.3" y="-4.3" width="30.6" height="8.6" rx="4.3" fill="none" stroke="#6cbf4e" stroke-width="1.2" stroke-dasharray="0.9 1.9"/><ellipse cx="0.5" cy="0" rx="13.2" ry="3.4" fill="#fdfff5"/></g><g transform="translate(646.7,297.8) rotate(-8)"><rect x="-16.5" y="-6.0" width="33" height="12" rx="6.0" fill="#b3e28c" stroke="#4fa845" stroke-width="1.1"/><rect x="-14.3" y="-3.8" width="28.6" height="7.6" rx="3.8" fill="none" stroke="#6cbf4e" stroke-width="1.2" stroke-dasharray="0.9 1.9"/><ellipse cx="0.5" cy="0" rx="12.2" ry="2.9" fill="#fdfff5"/></g><g transform="translate(653,309.6) rotate(-5)"><rect x="-14.0" y="-6.0" width="28" height="12" rx="6.0" fill="#b3e28c" stroke="#4fa845" stroke-width="1.1"/><rect x="-11.8" y="-3.8" width="23.6" height="7.6" rx="3.8" fill="none" stroke="#6cbf4e" stroke-width="1.2" stroke-dasharray="0.9 1.9"/><ellipse cx="0.5" cy="0" rx="9.7" ry="2.9" fill="#fdfff5"/></g><g transform="translate(654.6,321.7) rotate(-4)"><rect x="-15.5" y="-6.0" width="31" height="12" rx="6.0" fill="#b3e28c" stroke="#4fa845" stroke-width="1.1"/><rect x="-13.3" y="-3.8" width="26.6" height="7.6" rx="3.8" fill="none" stroke="#6cbf4e" stroke-width="1.2" stroke-dasharray="0.9 1.9"/><ellipse cx="0.5" cy="0" rx="11.2" ry="2.9" fill="#fdfff5"/></g><g transform="translate(658.3,334.6) rotate(-3)"><rect x="-16.0" y="-6.0" width="32" height="12" rx="6.0" fill="#b3e28c" stroke="#4fa845" stroke-width="1.1"/><rect x="-13.8" y="-3.8" width="27.6" height="7.6" rx="3.8" fill="none" stroke="#6cbf4e" stroke-width="1.2" stroke-dasharray="0.9 1.9"/><ellipse cx="0.5" cy="0" rx="11.7" ry="2.9" fill="#fdfff5"/></g><g transform="translate(661,347.5) rotate(-2)"><rect x="-16.5" y="-6.0" width="33" height="12" rx="6.0" fill="#b3e28c" stroke="#4fa845" stroke-width="1.1"/><rect x="-14.3" y="-3.8" width="28.6" height="7.6" rx="3.8" fill="none" stroke="#6cbf4e" stroke-width="1.2" stroke-dasharray="0.9 1.9"/><ellipse cx="0.5" cy="0" rx="12.2" ry="2.9" fill="#fdfff5"/></g><g transform="translate(665,360) rotate(-2)"><rect x="-15.0" y="-6.0" width="30" height="12" rx="6.0" fill="#b3e28c" stroke="#4fa845" stroke-width="1.1"/><rect x="-12.8" y="-3.8" width="25.6" height="7.6" rx="3.8" fill="none" stroke="#6cbf4e" stroke-width="1.2" stroke-dasharray="0.9 1.9"/><ellipse cx="0.5" cy="0" rx="10.7" ry="2.9" fill="#fdfff5"/></g><g transform="translate(665.3,373.3) rotate(-2)"><rect x="-18.0" y="-6.0" width="36" height="12" rx="6.0" fill="#b3e28c" stroke="#4fa845" stroke-width="1.1"/><rect x="-15.8" y="-3.8" width="31.6" height="7.6" rx="3.8" fill="none" stroke="#6cbf4e" stroke-width="1.2" stroke-dasharray="0.9 1.9"/><ellipse cx="0.5" cy="0" rx="13.7" ry="2.9" fill="#fdfff5"/></g><g transform="translate(670,385.8) rotate(0)"><rect x="-15.0" y="-6.0" width="30" height="12" rx="6.0" fill="#b3e28c" stroke="#4fa845" stroke-width="1.1"/><rect x="-12.8" y="-3.8" width="25.6" height="7.6" rx="3.8" fill="none" stroke="#6cbf4e" stroke-width="1.2" stroke-dasharray="0.9 1.9"/><ellipse cx="0.5" cy="0" rx="10.7" ry="2.9" fill="#fdfff5"/></g><g transform="translate(670.8,398.8) rotate(0)"><rect x="-17.5" y="-6.0" width="35" height="12" rx="6.0" fill="#b3e28c" stroke="#4fa845" stroke-width="1.1"/><rect x="-15.3" y="-3.8" width="30.6" height="7.6" rx="3.8" fill="none" stroke="#6cbf4e" stroke-width="1.2" stroke-dasharray="0.9 1.9"/><ellipse cx="0.5" cy="0" rx="13.2" ry="2.9" fill="#fdfff5"/></g><g transform="translate(641,235.6) rotate(55)"><rect x="-15.5" y="-6.0" width="31" height="12" rx="6.0" fill="#eef6c4" stroke="#4fa845" stroke-width="1.1"/><rect x="-13.5" y="-4.0" width="27" height="8" rx="4.0" fill="#d3d969"/><ellipse cx="10.5" cy="2.7" rx="1.6" ry="1.3" fill="#16442a"/></g><g transform="translate(654.4,259.6) rotate(58)"><rect x="-15.0" y="-6.0" width="30" height="12" rx="6.0" fill="#eef6c4" stroke="#4fa845" stroke-width="1.1"/><rect x="-13.0" y="-4.0" width="26" height="8" rx="4.0" fill="#d3d969"/><ellipse cx="10.0" cy="2.7" rx="1.6" ry="1.3" fill="#16442a"/></g><g transform="translate(665,284.3) rotate(62)"><rect x="-14.5" y="-6.0" width="29" height="12" rx="6.0" fill="#eef6c4" stroke="#4fa845" stroke-width="1.1"/><rect x="-12.5" y="-4.0" width="25" height="8" rx="4.0" fill="#d3d969"/><ellipse cx="9.5" cy="2.7" rx="1.6" ry="1.3" fill="#16442a"/></g><g transform="translate(673.7,311) rotate(65)"><rect x="-14.0" y="-6.0" width="28" height="12" rx="6.0" fill="#eef6c4" stroke="#4fa845" stroke-width="1.1"/><rect x="-12.0" y="-4.0" width="24" height="8" rx="4.0" fill="#d3d969"/><ellipse cx="9.0" cy="2.7" rx="1.6" ry="1.3" fill="#16442a"/></g><g transform="translate(680.4,335.8) rotate(70)"><rect x="-14.0" y="-6.0" width="28" height="12" rx="6.0" fill="#eef6c4" stroke="#4fa845" stroke-width="1.1"/><rect x="-12.0" y="-4.0" width="24" height="8" rx="4.0" fill="#d3d969"/><ellipse cx="9.0" cy="2.7" rx="1.6" ry="1.3" fill="#16442a"/></g><g transform="translate(686,362.5) rotate(73)"><rect x="-13.5" y="-6.0" width="27" height="12" rx="6.0" fill="#eef6c4" stroke="#4fa845" stroke-width="1.1"/><rect x="-11.5" y="-4.0" width="23" height="8" rx="4.0" fill="#d3d969"/><ellipse cx="8.5" cy="2.7" rx="1.6" ry="1.3" fill="#16442a"/></g><g transform="translate(691.3,390) rotate(76)"><rect x="-14.0" y="-6.0" width="28" height="12" rx="6.0" fill="#eef6c4" stroke="#4fa845" stroke-width="1.1"/><rect x="-12.0" y="-4.0" width="24" height="8" rx="4.0" fill="#d3d969"/><ellipse cx="9.0" cy="2.7" rx="1.6" ry="1.3" fill="#16442a"/></g><g transform="translate(526.1,257.6) rotate(-20)"><ellipse rx="8" ry="8.5" fill="url(#gcell)" stroke="#4fa845" stroke-width="1.1"/><ellipse rx="5.44" ry="5.78" fill="none" stroke="#6cbf4e" stroke-width="1.3" stroke-dasharray="0.9 1.9"/></g><g transform="translate(553.3,253) rotate(-20)"><ellipse rx="7" ry="8" fill="url(#gcell)" stroke="#4fa845" stroke-width="1.1"/><ellipse rx="4.76" ry="5.44" fill="none" stroke="#6cbf4e" stroke-width="1.3" stroke-dasharray="0.9 1.9"/></g><g transform="translate(538.4,272.9) rotate(-15)"><ellipse rx="7.8" ry="8.8" fill="url(#gcell)" stroke="#4fa845" stroke-width="1.1"/><ellipse rx="5.30" ry="5.98" fill="none" stroke="#6cbf4e" stroke-width="1.3" stroke-dasharray="0.9 1.9"/></g><g transform="translate(552.5,269.8) rotate(-10)"><ellipse rx="8.3" ry="8.8" fill="url(#gcell)" stroke="#4fa845" stroke-width="1.1"/><ellipse rx="5.64" ry="5.98" fill="none" stroke="#6cbf4e" stroke-width="1.3" stroke-dasharray="0.9 1.9"/></g><g transform="translate(569.2,271.9) rotate(-15)"><ellipse rx="8" ry="8.8" fill="url(#gcell)" stroke="#4fa845" stroke-width="1.1"/><ellipse rx="5.44" ry="5.98" fill="none" stroke="#6cbf4e" stroke-width="1.3" stroke-dasharray="0.9 1.9"/></g><g transform="translate(548.3,289) rotate(-15)"><ellipse rx="8.3" ry="8.8" fill="url(#gcell)" stroke="#4fa845" stroke-width="1.1"/><ellipse rx="5.64" ry="5.98" fill="none" stroke="#6cbf4e" stroke-width="1.3" stroke-dasharray="0.9 1.9"/></g><g transform="translate(563.4,285.4) rotate(-15)"><ellipse rx="8" ry="8.6" fill="url(#gcell)" stroke="#4fa845" stroke-width="1.1"/><ellipse rx="5.44" ry="5.85" fill="none" stroke="#6cbf4e" stroke-width="1.3" stroke-dasharray="0.9 1.9"/></g><g transform="translate(598.2,245) rotate(-10)"><ellipse rx="7" ry="9" fill="url(#gcell)" stroke="#4fa845" stroke-width="1.1"/><ellipse rx="4.76" ry="6.12" fill="none" stroke="#6cbf4e" stroke-width="1.3" stroke-dasharray="0.9 1.9"/></g><g transform="translate(587.1,310.8) rotate(-5)"><ellipse rx="7.2" ry="9" fill="url(#gcell)" stroke="#4fa845" stroke-width="1.1"/><ellipse rx="4.90" ry="6.12" fill="none" stroke="#6cbf4e" stroke-width="1.3" stroke-dasharray="0.9 1.9"/></g><g transform="translate(590.7,330.7) rotate(-5)"><ellipse rx="8" ry="10.5" fill="url(#gcell)" stroke="#4fa845" stroke-width="1.1"/><ellipse rx="5.44" ry="7.14" fill="none" stroke="#6cbf4e" stroke-width="1.3" stroke-dasharray="0.9 1.9"/></g><g transform="translate(572.6,350.5) rotate(-5)"><ellipse rx="7.5" ry="9.2" fill="url(#gcell)" stroke="#4fa845" stroke-width="1.1"/><ellipse rx="5.10" ry="6.26" fill="none" stroke="#6cbf4e" stroke-width="1.3" stroke-dasharray="0.9 1.9"/></g><g transform="translate(588,351) rotate(-5)"><ellipse rx="7.5" ry="9.2" fill="url(#gcell)" stroke="#4fa845" stroke-width="1.1"/><ellipse rx="5.10" ry="6.26" fill="none" stroke="#6cbf4e" stroke-width="1.3" stroke-dasharray="0.9 1.9"/></g><g transform="translate(577.1,369.4) rotate(-5)"><ellipse rx="7.5" ry="9" fill="url(#gcell)" stroke="#4fa845" stroke-width="1.1"/><ellipse rx="5.10" ry="6.12" fill="none" stroke="#6cbf4e" stroke-width="1.3" stroke-dasharray="0.9 1.9"/></g><g transform="translate(606,370.4) rotate(-10)"><ellipse rx="8" ry="9" fill="url(#gcell)" stroke="#4fa845" stroke-width="1.1"/><ellipse rx="5.44" ry="6.12" fill="none" stroke="#6cbf4e" stroke-width="1.3" stroke-dasharray="0.9 1.9"/></g><g transform="translate(596.25,395) rotate(-5)"><ellipse rx="7" ry="9" fill="url(#gcell)" stroke="#4fa845" stroke-width="1.1"/><ellipse rx="4.76" ry="6.12" fill="none" stroke="#6cbf4e" stroke-width="1.3" stroke-dasharray="0.9 1.9"/></g><g transform="translate(610.8,396.25) rotate(-5)"><ellipse rx="7" ry="9" fill="url(#gcell)" stroke="#4fa845" stroke-width="1.1"/><ellipse rx="4.76" ry="6.12" fill="none" stroke="#6cbf4e" stroke-width="1.3" stroke-dasharray="0.9 1.9"/></g><g transform="translate(584.6,404.2) rotate(-5)"><ellipse rx="7" ry="8.5" fill="url(#gcell)" stroke="#4fa845" stroke-width="1.1"/><ellipse rx="4.76" ry="5.78" fill="none" stroke="#6cbf4e" stroke-width="1.3" stroke-dasharray="0.9 1.9"/></g><g transform="translate(600.4,413.75) rotate(-5)"><ellipse rx="7" ry="9" fill="url(#gcell)" stroke="#4fa845" stroke-width="1.1"/><ellipse rx="4.76" ry="6.12" fill="none" stroke="#6cbf4e" stroke-width="1.3" stroke-dasharray="0.9 1.9"/></g><g transform="translate(624,303.6) rotate(-5)"><ellipse rx="7" ry="8" fill="url(#gcell)" stroke="#4fa845" stroke-width="1.1"/><ellipse rx="4.76" ry="5.44" fill="none" stroke="#6cbf4e" stroke-width="1.3" stroke-dasharray="0.9 1.9"/></g><g transform="translate(614,274.9) rotate(-5)"><ellipse rx="6.5" ry="8.5" fill="url(#gcell)" stroke="#4fa845" stroke-width="1.1"/><ellipse rx="4.42" ry="5.78" fill="none" stroke="#6cbf4e" stroke-width="1.3" stroke-dasharray="0.9 1.9"/></g><g transform="translate(637.5,342.5) rotate(0)"><ellipse rx="6.5" ry="7.5" fill="url(#gcell)" stroke="#4fa845" stroke-width="1.1"/><ellipse rx="4.42" ry="5.10" fill="none" stroke="#6cbf4e" stroke-width="1.3" stroke-dasharray="0.9 1.9"/></g><g transform="translate(635.8,359.2) rotate(0)"><ellipse rx="6.5" ry="7.5" fill="url(#gcell)" stroke="#4fa845" stroke-width="1.1"/><ellipse rx="4.42" ry="5.10" fill="none" stroke="#6cbf4e" stroke-width="1.3" stroke-dasharray="0.9 1.9"/></g><g transform="translate(648.3,387.5) rotate(0)"><ellipse rx="6.5" ry="7.5" fill="url(#gcell)" stroke="#4fa845" stroke-width="1.1"/><ellipse rx="4.42" ry="5.10" fill="none" stroke="#6cbf4e" stroke-width="1.3" stroke-dasharray="0.9 1.9"/></g><g transform="translate(645.8,402.5) rotate(0)"><ellipse rx="6.5" ry="7.5" fill="url(#gcell)" stroke="#4fa845" stroke-width="1.1"/><ellipse rx="4.42" ry="5.10" fill="none" stroke="#6cbf4e" stroke-width="1.3" stroke-dasharray="0.9 1.9"/></g><path d="M525.50,320.50 C525.88,318.88 528.00,313.12 530.00,310.75 C532.00,308.38 534.75,307.31 537.50,306.25 C540.25,305.19 543.50,304.52 546.50,304.40 C549.50,304.27 553.12,304.57 555.50,305.50 C557.88,306.43 560.00,308.50 560.75,310.00 C561.50,311.50 561.12,313.38 560.00,314.50 C558.88,315.62 556.25,316.12 554.00,316.75 C551.75,317.38 548.25,317.75 546.50,318.25 C544.75,318.75 544.25,320.00 543.50,319.75 C542.75,319.50 543.00,317.38 542.00,316.75 C541.00,316.12 539.12,316.00 537.50,316.00 C535.88,316.00 533.88,316.00 532.25,316.75 C530.62,317.50 528.88,319.88 527.75,320.50 C526.62,321.12 525.12,322.12 525.50,320.50Z" fill="#b8e28e" stroke="#1f7d2b" stroke-width="1.6"/><path d="M531.50,340.00 C531.50,338.50 532.75,336.62 534.50,335.50 C536.25,334.38 539.50,334.00 542.00,333.25 C544.50,332.50 547.25,332.25 549.50,331.00 C551.75,329.75 553.50,327.18 555.50,325.75 C557.50,324.32 559.62,322.77 561.50,322.40 C563.38,322.02 565.62,322.32 566.75,323.50 C567.88,324.68 568.38,327.25 568.25,329.50 C568.12,331.75 567.38,334.88 566.00,337.00 C564.62,339.12 562.50,340.88 560.00,342.25 C557.50,343.62 554.00,344.62 551.00,345.25 C548.00,345.88 544.75,346.12 542.00,346.00 C539.25,345.88 536.25,345.50 534.50,344.50 C532.75,343.50 531.50,341.50 531.50,340.00Z" fill="#b8e28e" stroke="#1f7d2b" stroke-width="1.6"/><path d="M543.5,319.5 C548,317 555,316 560,314" fill="none" stroke="#1f7d2b" stroke-width="2.4"/><path d="M533,335.8 C542,333.5 550,331 556,325.5" fill="none" stroke="#1f7d2b" stroke-width="2.4"/><circle cx="545" cy="312" r="2.2" fill="#3a8a24"/><circle cx="548" cy="338.5" r="2.3" fill="#3a8a24"/><ellipse cx="559.3" cy="333.3" rx="5.8" ry="3.6" transform="rotate(-40 559.3 333.3)" fill="#8fd3f2" stroke="#b9e9f7" stroke-width="0.8"/><circle cx="536" cy="310" r="0.9" fill="#7cc155"/><circle cx="540" cy="308.5" r="0.9" fill="#7cc155"/><circle cx="551" cy="308" r="0.9" fill="#7cc155"/><circle cx="555" cy="311" r="0.9" fill="#7cc155"/><circle cx="550" cy="313" r="0.9" fill="#7cc155"/><circle cx="538" cy="341" r="0.9" fill="#7cc155"/><circle cx="543" cy="343.5" r="0.9" fill="#7cc155"/><circle cx="554" cy="341" r="0.9" fill="#7cc155"/><circle cx="545" cy="336" r="0.9" fill="#7cc155"/><circle cx="563" cy="330" r="0.9" fill="#7cc155"/><use href="#np" x="523.0" y="312.5" width="21" height="21"/><use href="#np" x="470.5" y="292.5" width="31" height="31"/><use href="#np" x="818.0" y="209.4" width="30" height="30"/><use href="#np" x="871.0" y="222.7" width="30" height="30"/><use href="#np" x="840.0" y="250.9" width="30" height="30"/><path d="M912.98,249.80 L915.36,249.92 L917.70,250.08 L920.02,250.30 L922.30,250.57 L924.56,250.89 L926.78,251.26 L928.98,251.68 L931.14,252.15 L933.27,252.66 L935.37,253.22 L937.44,253.82 L939.47,254.47 L941.47,255.17 L943.44,255.91 L945.37,256.69 L947.26,257.51 L949.12,258.37 L950.94,259.27 L952.73,260.22 L954.48,261.20 L956.19,262.22 L957.86,263.28 L959.50,264.37 L961.09,265.50 L962.65,266.67 L964.16,267.87 L965.64,269.10 L967.07,270.37 L968.47,271.67 L969.82,273.00 L971.13,274.36 L972.39,275.75 L973.62,277.17 L974.80,278.62 L975.93,280.10 L977.02,281.61 L978.07,283.14 L979.07,284.70 L980.03,286.28 L980.95,287.91 L984.05,286.09 L983.05,284.45 L981.99,282.81 L980.89,281.20 L979.74,279.63 L978.54,278.08 L977.30,276.57 L976.02,275.09 L974.70,273.65 L973.33,272.23 L971.92,270.85 L970.47,269.51 L968.97,268.20 L967.44,266.93 L965.87,265.70 L964.26,264.50 L962.61,263.34 L960.93,262.22 L959.20,261.14 L957.44,260.10 L955.65,259.10 L953.82,258.14 L951.95,257.23 L950.05,256.35 L948.12,255.52 L946.15,254.74 L944.15,253.99 L942.12,253.30 L940.05,252.64 L937.96,252.04 L935.83,251.48 L933.68,250.97 L931.49,250.50 L929.28,250.09 L927.04,249.72 L924.77,249.41 L922.47,249.14 L920.14,248.93 L917.79,248.77 L915.42,248.66 L913.02,248.60Z" fill="#000"/><path d="M988.3,295 L974.6,285.6 L982,285.5 L989.6,280.2 Z" fill="#000"/><path d="M998.21,342.40 L997.78,344.79 L997.26,347.09 L996.66,349.33 L995.97,351.51 L995.21,353.61 L994.37,355.65 L993.45,357.62 L992.47,359.53 L991.41,361.37 L990.28,363.15 L989.09,364.86 L987.84,366.51 L986.52,368.10 L985.15,369.63 L983.72,371.09 L982.24,372.49 L980.70,373.83 L979.11,375.11 L977.48,376.33 L975.80,377.48 L974.07,378.58 L972.31,379.62 L970.50,380.60 L968.66,381.52 L966.79,382.39 L964.88,383.19 L962.94,383.94 L960.97,384.63 L958.98,385.26 L956.96,385.83 L954.92,386.35 L952.86,386.81 L950.79,387.22 L948.70,387.57 L946.60,387.86 L944.49,388.10 L942.37,388.28 L940.24,388.41 L938.11,388.48 L935.96,388.50 L936.04,392.10 L938.24,392.02 L940.45,391.88 L942.66,391.69 L944.87,391.44 L947.06,391.13 L949.24,390.76 L951.40,390.34 L953.55,389.86 L955.68,389.32 L957.78,388.72 L959.87,388.06 L961.92,387.34 L963.95,386.57 L965.95,385.74 L967.91,384.84 L969.84,383.89 L971.73,382.87 L973.58,381.80 L975.39,380.66 L977.15,379.47 L978.87,378.21 L980.54,376.89 L982.15,375.51 L983.71,374.07 L985.21,372.57 L986.66,371.00 L988.04,369.37 L989.36,367.69 L990.61,365.94 L991.80,364.12 L992.91,362.25 L993.95,360.31 L994.92,358.32 L995.81,356.26 L996.62,354.13 L997.34,351.95 L997.99,349.70 L998.54,347.39 L999.01,345.02 L999.39,342.60Z" fill="#000"/><path d="M926.8,390.6 L938.3,383.3 L936,390.4 L939.7,397.9 Z" fill="#000"/><line x1="925.2" y1="295.0" x2="929.0" y2="305.0" stroke="#9a9a9a" stroke-width="1.5"/><line x1="929.0" y1="305.0" x2="922.6" y2="314.1" stroke="#9a9a9a" stroke-width="1.5"/><line x1="922.6" y1="314.1" x2="914.5" y2="311.8" stroke="#9a9a9a" stroke-width="1.5"/><line x1="929.0" y1="305.0" x2="941.3" y2="305.7" stroke="#3cb043" stroke-width="1.5"/><line x1="941.3" y1="305.7" x2="943.6" y2="297.3" stroke="#9a9a9a" stroke-width="1.5"/><line x1="941.3" y1="305.7" x2="940.5" y2="311.0" stroke="#9a9a9a" stroke-width="1.5"/><line x1="941.3" y1="305.7" x2="949.7" y2="311.8" stroke="#3cb043" stroke-width="1.5"/><line x1="949.7" y1="311.8" x2="952.0" y2="305.7" stroke="#9a9a9a" stroke-width="1.5"/><line x1="949.7" y1="311.8" x2="945.8" y2="319.5" stroke="#9a9a9a" stroke-width="1.5"/><line x1="949.7" y1="311.8" x2="961.1" y2="314.1" stroke="#3cb043" stroke-width="1.5"/><line x1="961.1" y1="314.1" x2="958.8" y2="318.0" stroke="#9a9a9a" stroke-width="1.5"/><line x1="961.1" y1="314.1" x2="966.5" y2="301.9" stroke="#3cb043" stroke-width="1.5"/><line x1="966.5" y1="301.9" x2="962.7" y2="298.0" stroke="#9a9a9a" stroke-width="1.5"/><line x1="962.7" y1="298.0" x2="967.2" y2="292.0" stroke="#9a9a9a" stroke-width="1.5"/><line x1="966.5" y1="301.9" x2="976.4" y2="298.8" stroke="#9a9a9a" stroke-width="1.5"/><line x1="961.1" y1="314.1" x2="969.5" y2="322.5" stroke="#3cb043" stroke-width="1.5"/><line x1="969.5" y1="322.5" x2="974.9" y2="318.0" stroke="#9a9a9a" stroke-width="1.5"/><line x1="969.5" y1="322.5" x2="978.0" y2="323.3" stroke="#9a9a9a" stroke-width="1.5"/><circle cx="914.5" cy="311.8" r="2.0" fill="#f2f2f2" stroke="#777" stroke-width="0.35"/><circle cx="913.8" cy="311.1" r="0.70" fill="#fff" opacity="0.45"/><circle cx="943.6" cy="297.3" r="2.0" fill="#f2f2f2" stroke="#777" stroke-width="0.35"/><circle cx="942.9" cy="296.6" r="0.70" fill="#fff" opacity="0.45"/><circle cx="940.5" cy="311.0" r="2.0" fill="#f2f2f2" stroke="#777" stroke-width="0.35"/><circle cx="939.8" cy="310.3" r="0.70" fill="#fff" opacity="0.45"/><circle cx="952.0" cy="305.7" r="2.0" fill="#f2f2f2" stroke="#777" stroke-width="0.35"/><circle cx="951.3" cy="305.0" r="0.70" fill="#fff" opacity="0.45"/><circle cx="945.8" cy="319.5" r="2.0" fill="#f2f2f2" stroke="#777" stroke-width="0.35"/><circle cx="945.1" cy="318.8" r="0.70" fill="#fff" opacity="0.45"/><circle cx="958.8" cy="318.0" r="2.0" fill="#f2f2f2" stroke="#777" stroke-width="0.35"/><circle cx="958.1" cy="317.3" r="0.70" fill="#fff" opacity="0.45"/><circle cx="967.2" cy="292.0" r="2.0" fill="#f2f2f2" stroke="#777" stroke-width="0.35"/><circle cx="966.5" cy="291.3" r="0.70" fill="#fff" opacity="0.45"/><circle cx="974.9" cy="318.0" r="2.0" fill="#f2f2f2" stroke="#777" stroke-width="0.35"/><circle cx="974.2" cy="317.3" r="0.70" fill="#fff" opacity="0.45"/><circle cx="978.0" cy="323.3" r="2.0" fill="#f2f2f2" stroke="#777" stroke-width="0.35"/><circle cx="977.3" cy="322.6" r="0.70" fill="#fff" opacity="0.45"/><circle cx="925.2" cy="295.0" r="3.0" fill="#e0141c" stroke="#777" stroke-width="0.35"/><circle cx="924.2" cy="293.9" r="1.05" fill="#fff" opacity="0.45"/><circle cx="929.0" cy="305.0" r="2.8" fill="#a8a8a8" stroke="#777" stroke-width="0.35"/><circle cx="928.0" cy="304.0" r="0.98" fill="#fff" opacity="0.45"/><circle cx="922.6" cy="314.1" r="3.0" fill="#e0141c" stroke="#777" stroke-width="0.35"/><circle cx="921.6" cy="313.1" r="1.05" fill="#fff" opacity="0.45"/><circle cx="941.3" cy="305.7" r="2.8" fill="#a8a8a8" stroke="#777" stroke-width="0.35"/><circle cx="940.3" cy="304.7" r="0.98" fill="#fff" opacity="0.45"/><circle cx="949.7" cy="311.8" r="2.8" fill="#a8a8a8" stroke="#777" stroke-width="0.35"/><circle cx="948.7" cy="310.8" r="0.98" fill="#fff" opacity="0.45"/><circle cx="961.1" cy="314.1" r="2.8" fill="#a8a8a8" stroke="#777" stroke-width="0.35"/><circle cx="960.1" cy="313.1" r="0.98" fill="#fff" opacity="0.45"/><circle cx="966.5" cy="301.9" r="2.8" fill="#a8a8a8" stroke="#777" stroke-width="0.35"/><circle cx="965.5" cy="300.9" r="0.98" fill="#fff" opacity="0.45"/><circle cx="962.7" cy="298.0" r="3.0" fill="#e0141c" stroke="#777" stroke-width="0.35"/><circle cx="961.7" cy="296.9" r="1.05" fill="#fff" opacity="0.45"/><circle cx="976.4" cy="298.8" r="3.0" fill="#e0141c" stroke="#777" stroke-width="0.35"/><circle cx="975.4" cy="297.8" r="1.05" fill="#fff" opacity="0.45"/><circle cx="969.5" cy="322.5" r="2.9" fill="#8a8ed8" stroke="#777" stroke-width="0.35"/><circle cx="968.5" cy="321.5" r="1.01" fill="#fff" opacity="0.45"/><line x1="1011.6" y1="285.8" x2="1015.4" y2="295.8" stroke="#9a9a9a" stroke-width="1.5"/><line x1="1015.4" y1="295.8" x2="1009.0" y2="304.9" stroke="#9a9a9a" stroke-width="1.5"/><line x1="1009.0" y1="304.9" x2="1000.9" y2="302.6" stroke="#9a9a9a" stroke-width="1.5"/><line x1="1015.4" y1="295.8" x2="1027.7" y2="296.5" stroke="#3cb043" stroke-width="1.5"/><line x1="1027.7" y1="296.5" x2="1030.0" y2="288.1" stroke="#9a9a9a" stroke-width="1.5"/><line x1="1027.7" y1="296.5" x2="1026.9" y2="301.8" stroke="#9a9a9a" stroke-width="1.5"/><line x1="1027.7" y1="296.5" x2="1036.1" y2="302.6" stroke="#3cb043" stroke-width="1.5"/><line x1="1036.1" y1="302.6" x2="1038.4" y2="296.5" stroke="#9a9a9a" stroke-width="1.5"/><line x1="1036.1" y1="302.6" x2="1032.2" y2="310.3" stroke="#9a9a9a" stroke-width="1.5"/><line x1="1036.1" y1="302.6" x2="1047.5" y2="304.9" stroke="#3cb043" stroke-width="1.5"/><line x1="1047.5" y1="304.9" x2="1045.2" y2="308.8" stroke="#9a9a9a" stroke-width="1.5"/><line x1="1047.5" y1="304.9" x2="1052.9" y2="292.7" stroke="#3cb043" stroke-width="1.5"/><line x1="1052.9" y1="292.7" x2="1049.1" y2="288.8" stroke="#9a9a9a" stroke-width="1.5"/><line x1="1049.1" y1="288.8" x2="1053.6" y2="282.8" stroke="#9a9a9a" stroke-width="1.5"/><line x1="1052.9" y1="292.7" x2="1062.8" y2="289.6" stroke="#9a9a9a" stroke-width="1.5"/><line x1="1047.5" y1="304.9" x2="1055.9" y2="313.3" stroke="#3cb043" stroke-width="1.5"/><line x1="1055.9" y1="313.3" x2="1061.3" y2="308.8" stroke="#9a9a9a" stroke-width="1.5"/><line x1="1055.9" y1="313.3" x2="1064.4" y2="314.1" stroke="#9a9a9a" stroke-width="1.5"/><circle cx="1000.9" cy="302.6" r="2.0" fill="#f2f2f2" stroke="#777" stroke-width="0.35"/><circle cx="1000.2" cy="301.9" r="0.70" fill="#fff" opacity="0.45"/><circle cx="1030.0" cy="288.1" r="2.0" fill="#f2f2f2" stroke="#777" stroke-width="0.35"/><circle cx="1029.3" cy="287.4" r="0.70" fill="#fff" opacity="0.45"/><circle cx="1026.9" cy="301.8" r="2.0" fill="#f2f2f2" stroke="#777" stroke-width="0.35"/><circle cx="1026.2" cy="301.1" r="0.70" fill="#fff" opacity="0.45"/><circle cx="1038.4" cy="296.5" r="2.0" fill="#f2f2f2" stroke="#777" stroke-width="0.35"/><circle cx="1037.7" cy="295.8" r="0.70" fill="#fff" opacity="0.45"/><circle cx="1032.2" cy="310.3" r="2.0" fill="#f2f2f2" stroke="#777" stroke-width="0.35"/><circle cx="1031.5" cy="309.6" r="0.70" fill="#fff" opacity="0.45"/><circle cx="1045.2" cy="308.8" r="2.0" fill="#f2f2f2" stroke="#777" stroke-width="0.35"/><circle cx="1044.5" cy="308.1" r="0.70" fill="#fff" opacity="0.45"/><circle cx="1053.6" cy="282.8" r="2.0" fill="#f2f2f2" stroke="#777" stroke-width="0.35"/><circle cx="1052.9" cy="282.1" r="0.70" fill="#fff" opacity="0.45"/><circle cx="1061.3" cy="308.8" r="2.0" fill="#f2f2f2" stroke="#777" stroke-width="0.35"/><circle cx="1060.6" cy="308.1" r="0.70" fill="#fff" opacity="0.45"/><circle cx="1064.4" cy="314.1" r="2.0" fill="#f2f2f2" stroke="#777" stroke-width="0.35"/><circle cx="1063.7" cy="313.4" r="0.70" fill="#fff" opacity="0.45"/><circle cx="1011.6" cy="285.8" r="3.0" fill="#e0141c" stroke="#777" stroke-width="0.35"/><circle cx="1010.6" cy="284.8" r="1.05" fill="#fff" opacity="0.45"/><circle cx="1015.4" cy="295.8" r="2.8" fill="#a8a8a8" stroke="#777" stroke-width="0.35"/><circle cx="1014.4" cy="294.8" r="0.98" fill="#fff" opacity="0.45"/><circle cx="1009.0" cy="304.9" r="3.0" fill="#e0141c" stroke="#777" stroke-width="0.35"/><circle cx="1008.0" cy="303.9" r="1.05" fill="#fff" opacity="0.45"/><circle cx="1027.7" cy="296.5" r="2.8" fill="#a8a8a8" stroke="#777" stroke-width="0.35"/><circle cx="1026.7" cy="295.5" r="0.98" fill="#fff" opacity="0.45"/><circle cx="1036.1" cy="302.6" r="2.8" fill="#a8a8a8" stroke="#777" stroke-width="0.35"/><circle cx="1035.1" cy="301.6" r="0.98" fill="#fff" opacity="0.45"/><circle cx="1047.5" cy="304.9" r="2.8" fill="#a8a8a8" stroke="#777" stroke-width="0.35"/><circle cx="1046.5" cy="303.9" r="0.98" fill="#fff" opacity="0.45"/><circle cx="1052.9" cy="292.7" r="2.8" fill="#a8a8a8" stroke="#777" stroke-width="0.35"/><circle cx="1051.9" cy="291.7" r="0.98" fill="#fff" opacity="0.45"/><circle cx="1049.1" cy="288.8" r="3.0" fill="#e0141c" stroke="#777" stroke-width="0.35"/><circle cx="1048.0" cy="287.8" r="1.05" fill="#fff" opacity="0.45"/><circle cx="1062.8" cy="289.6" r="3.0" fill="#e0141c" stroke="#777" stroke-width="0.35"/><circle cx="1061.8" cy="288.6" r="1.05" fill="#fff" opacity="0.45"/><circle cx="1055.9" cy="313.3" r="2.9" fill="#8a8ed8" stroke="#777" stroke-width="0.35"/><circle cx="1054.9" cy="312.3" r="1.01" fill="#fff" opacity="0.45"/><line x1="992.5" y1="323.3" x2="996.3" y2="333.3" stroke="#9a9a9a" stroke-width="1.5"/><line x1="996.3" y1="333.3" x2="989.9" y2="342.4" stroke="#9a9a9a" stroke-width="1.5"/><line x1="989.9" y1="342.4" x2="981.8" y2="340.1" stroke="#9a9a9a" stroke-width="1.5"/><line x1="996.3" y1="333.3" x2="1008.6" y2="334.0" stroke="#3cb043" stroke-width="1.5"/><line x1="1008.6" y1="334.0" x2="1010.9" y2="325.6" stroke="#9a9a9a" stroke-width="1.5"/><line x1="1008.6" y1="334.0" x2="1007.8" y2="339.3" stroke="#9a9a9a" stroke-width="1.5"/><line x1="1008.6" y1="334.0" x2="1017.0" y2="340.1" stroke="#3cb043" stroke-width="1.5"/><line x1="1017.0" y1="340.1" x2="1019.3" y2="334.0" stroke="#9a9a9a" stroke-width="1.5"/><line x1="1017.0" y1="340.1" x2="1013.1" y2="347.8" stroke="#9a9a9a" stroke-width="1.5"/><line x1="1017.0" y1="340.1" x2="1028.4" y2="342.4" stroke="#3cb043" stroke-width="1.5"/><line x1="1028.4" y1="342.4" x2="1026.1" y2="346.3" stroke="#9a9a9a" stroke-width="1.5"/><line x1="1028.4" y1="342.4" x2="1033.8" y2="330.2" stroke="#3cb043" stroke-width="1.5"/><line x1="1033.8" y1="330.2" x2="1030.0" y2="326.3" stroke="#9a9a9a" stroke-width="1.5"/><line x1="1030.0" y1="326.3" x2="1034.5" y2="320.3" stroke="#9a9a9a" stroke-width="1.5"/><line x1="1033.8" y1="330.2" x2="1043.7" y2="327.1" stroke="#9a9a9a" stroke-width="1.5"/><line x1="1028.4" y1="342.4" x2="1036.8" y2="350.8" stroke="#3cb043" stroke-width="1.5"/><line x1="1036.8" y1="350.8" x2="1042.2" y2="346.3" stroke="#9a9a9a" stroke-width="1.5"/><line x1="1036.8" y1="350.8" x2="1045.3" y2="351.6" stroke="#9a9a9a" stroke-width="1.5"/><circle cx="981.8" cy="340.1" r="2.0" fill="#f2f2f2" stroke="#777" stroke-width="0.35"/><circle cx="981.1" cy="339.4" r="0.70" fill="#fff" opacity="0.45"/><circle cx="1010.9" cy="325.6" r="2.0" fill="#f2f2f2" stroke="#777" stroke-width="0.35"/><circle cx="1010.2" cy="324.9" r="0.70" fill="#fff" opacity="0.45"/><circle cx="1007.8" cy="339.3" r="2.0" fill="#f2f2f2" stroke="#777" stroke-width="0.35"/><circle cx="1007.1" cy="338.6" r="0.70" fill="#fff" opacity="0.45"/><circle cx="1019.3" cy="334.0" r="2.0" fill="#f2f2f2" stroke="#777" stroke-width="0.35"/><circle cx="1018.6" cy="333.3" r="0.70" fill="#fff" opacity="0.45"/><circle cx="1013.1" cy="347.8" r="2.0" fill="#f2f2f2" stroke="#777" stroke-width="0.35"/><circle cx="1012.4" cy="347.1" r="0.70" fill="#fff" opacity="0.45"/><circle cx="1026.1" cy="346.3" r="2.0" fill="#f2f2f2" stroke="#777" stroke-width="0.35"/><circle cx="1025.4" cy="345.6" r="0.70" fill="#fff" opacity="0.45"/><circle cx="1034.5" cy="320.3" r="2.0" fill="#f2f2f2" stroke="#777" stroke-width="0.35"/><circle cx="1033.8" cy="319.6" r="0.70" fill="#fff" opacity="0.45"/><circle cx="1042.2" cy="346.3" r="2.0" fill="#f2f2f2" stroke="#777" stroke-width="0.35"/><circle cx="1041.5" cy="345.6" r="0.70" fill="#fff" opacity="0.45"/><circle cx="1045.3" cy="351.6" r="2.0" fill="#f2f2f2" stroke="#777" stroke-width="0.35"/><circle cx="1044.6" cy="350.9" r="0.70" fill="#fff" opacity="0.45"/><circle cx="992.5" cy="323.3" r="3.0" fill="#e0141c" stroke="#777" stroke-width="0.35"/><circle cx="991.5" cy="322.2" r="1.05" fill="#fff" opacity="0.45"/><circle cx="996.3" cy="333.3" r="2.8" fill="#a8a8a8" stroke="#777" stroke-width="0.35"/><circle cx="995.3" cy="332.3" r="0.98" fill="#fff" opacity="0.45"/><circle cx="989.9" cy="342.4" r="3.0" fill="#e0141c" stroke="#777" stroke-width="0.35"/><circle cx="988.9" cy="341.4" r="1.05" fill="#fff" opacity="0.45"/><circle cx="1008.6" cy="334.0" r="2.8" fill="#a8a8a8" stroke="#777" stroke-width="0.35"/><circle cx="1007.6" cy="333.0" r="0.98" fill="#fff" opacity="0.45"/><circle cx="1017.0" cy="340.1" r="2.8" fill="#a8a8a8" stroke="#777" stroke-width="0.35"/><circle cx="1016.0" cy="339.1" r="0.98" fill="#fff" opacity="0.45"/><circle cx="1028.4" cy="342.4" r="2.8" fill="#a8a8a8" stroke="#777" stroke-width="0.35"/><circle cx="1027.4" cy="341.4" r="0.98" fill="#fff" opacity="0.45"/><circle cx="1033.8" cy="330.2" r="2.8" fill="#a8a8a8" stroke="#777" stroke-width="0.35"/><circle cx="1032.8" cy="329.2" r="0.98" fill="#fff" opacity="0.45"/><circle cx="1030.0" cy="326.3" r="3.0" fill="#e0141c" stroke="#777" stroke-width="0.35"/><circle cx="1029.0" cy="325.2" r="1.05" fill="#fff" opacity="0.45"/><circle cx="1043.7" cy="327.1" r="3.0" fill="#e0141c" stroke="#777" stroke-width="0.35"/><circle cx="1042.7" cy="326.1" r="1.05" fill="#fff" opacity="0.45"/><circle cx="1036.8" cy="350.8" r="2.9" fill="#8a8ed8" stroke="#777" stroke-width="0.35"/><circle cx="1035.8" cy="349.8" r="1.01" fill="#fff" opacity="0.45"/><path d="M852,383 C852,372 866,368.5 880,368.8 C896,369 907.5,375 907.5,384 C907.5,392 898,396.5 884,396.5 L868,396.3 C857,396 852,391 852,383 Z" fill="#25904a"/><ellipse cx="873.3" cy="385" rx="21" ry="10.3" fill="#3d9a62" stroke="#cdeec0" stroke-width="1.2"/><rect x="858.8" y="378.2" width="4.4" height="3.6" rx="1" fill="#67bf86" stroke="#3a8a58" stroke-width="0.4"/><rect x="864.8" y="376.2" width="4.4" height="3.6" rx="1" fill="#67bf86" stroke="#3a8a58" stroke-width="0.4"/><rect x="870.8" y="375.2" width="4.4" height="3.6" rx="1" fill="#67bf86" stroke="#3a8a58" stroke-width="0.4"/><rect x="876.8" y="375.7" width="4.4" height="3.6" rx="1" fill="#67bf86" stroke="#3a8a58" stroke-width="0.4"/><rect x="882.8" y="377.2" width="4.4" height="3.6" rx="1" fill="#67bf86" stroke="#3a8a58" stroke-width="0.4"/><rect x="855.8" y="384.2" width="4.4" height="3.6" rx="1" fill="#67bf86" stroke="#3a8a58" stroke-width="0.4"/><rect x="861.8" y="382.7" width="4.4" height="3.6" rx="1" fill="#67bf86" stroke="#3a8a58" stroke-width="0.4"/><rect x="867.8" y="382.2" width="4.4" height="3.6" rx="1" fill="#67bf86" stroke="#3a8a58" stroke-width="0.4"/><rect x="873.8" y="381.7" width="4.4" height="3.6" rx="1" fill="#67bf86" stroke="#3a8a58" stroke-width="0.4"/><rect x="879.8" y="382.2" width="4.4" height="3.6" rx="1" fill="#67bf86" stroke="#3a8a58" stroke-width="0.4"/><rect x="885.8" y="383.2" width="4.4" height="3.6" rx="1" fill="#67bf86" stroke="#3a8a58" stroke-width="0.4"/><rect x="860.8" y="388.2" width="4.4" height="3.6" rx="1" fill="#67bf86" stroke="#3a8a58" stroke-width="0.4"/><rect x="866.8" y="388.7" width="4.4" height="3.6" rx="1" fill="#67bf86" stroke="#3a8a58" stroke-width="0.4"/><rect x="872.8" y="388.2" width="4.4" height="3.6" rx="1" fill="#67bf86" stroke="#3a8a58" stroke-width="0.4"/><rect x="878.8" y="388.2" width="4.4" height="3.6" rx="1" fill="#67bf86" stroke="#3a8a58" stroke-width="0.4"/><rect x="884.8" y="387.7" width="4.4" height="3.6" rx="1" fill="#67bf86" stroke="#3a8a58" stroke-width="0.4"/><path d="M491.25,507.5 L585,501.5 L585.9,477.5 L622.5,500.5 L709.7,499.5 L667,514.5 L693.75,523.4 L633.5,526.5 L637.5,544 L591,530 L506.25,540.3 L549.4,519.7Z" fill="#f8ea68"/><text x="552.7" y="519.2" textLength="105.9" lengthAdjust="spacingAndGlyphs" font-family='"Liberation Serif", serif' font-size="19.3" font-weight="bold" font-style="normal" fill="#111" >SA pathway</text><line x1="665.9" y1="503.8" x2="665.9" y2="522.9" stroke="#d0283a" stroke-width="1.5"/><path d="M665.9,496.5 L670.9,504.8 L665.9,502.5 L660.9,504.8 Z" fill="#e8102a"/><line x1="704.7" y1="644.3" x2="704.7" y2="663.1" stroke="#d0283a" stroke-width="1.5"/><path d="M704.7,636.9 L709.5,645.3 L704.7,643.0 L699.9000000000001,645.3 Z" fill="#e8102a"/><rect x="603.8" y="540.8" width="5.6" height="29" fill="#000"/><path d="M599.8,569.3 L613.3,569.3 L606.6,579.8 Z" fill="#000"/><ellipse cx="611" cy="636.7" rx="112.6" ry="49.1" fill="none" stroke="#c6a06e" stroke-width="3.4" stroke-dasharray="23.2 14.9" stroke-dashoffset="2.4"/><line x1="578.92" y1="629.54" x2="577.48" y2="621.66" stroke="#8cc4d8" stroke-width="0.7"/><line x1="581.90" y1="630.30" x2="580.00" y2="619.90" stroke="#8cc4d8" stroke-width="0.7"/><line x1="584.73" y1="630.29" x2="582.67" y2="618.91" stroke="#8cc4d8" stroke-width="0.7"/><line x1="587.40" y1="629.31" x2="585.50" y2="618.89" stroke="#8cc4d8" stroke-width="0.7"/><line x1="589.87" y1="627.30" x2="588.53" y2="619.90" stroke="#8cc4d8" stroke-width="0.7"/><line x1="592.19" y1="624.41" x2="591.71" y2="621.79" stroke="#8cc4d8" stroke-width="0.7"/><line x1="594.41" y1="620.99" x2="594.99" y2="624.21" stroke="#8cc4d8" stroke-width="0.7"/><line x1="596.62" y1="617.51" x2="598.28" y2="626.69" stroke="#8cc4d8" stroke-width="0.7"/><line x1="598.91" y1="614.50" x2="601.49" y2="628.70" stroke="#8cc4d8" stroke-width="0.7"/><line x1="601.44" y1="612.81" x2="604.46" y2="629.39" stroke="#8cc4d8" stroke-width="0.7"/><line x1="604.23" y1="612.54" x2="607.17" y2="628.66" stroke="#8cc4d8" stroke-width="0.7"/><line x1="607.26" y1="613.58" x2="609.64" y2="626.62" stroke="#8cc4d8" stroke-width="0.7"/><line x1="610.49" y1="615.67" x2="611.91" y2="623.53" stroke="#8cc4d8" stroke-width="0.7"/><line x1="613.82" y1="618.40" x2="614.08" y2="619.80" stroke="#8cc4d8" stroke-width="0.7"/><line x1="617.18" y1="621.25" x2="616.22" y2="615.95" stroke="#8cc4d8" stroke-width="0.7"/><line x1="620.46" y1="623.67" x2="618.44" y2="612.53" stroke="#8cc4d8" stroke-width="0.7"/><line x1="623.58" y1="625.18" x2="620.82" y2="610.02" stroke="#8cc4d8" stroke-width="0.7"/><line x1="626.47" y1="625.46" x2="623.43" y2="608.74" stroke="#8cc4d8" stroke-width="0.7"/><line x1="629.11" y1="624.38" x2="626.29" y2="608.82" stroke="#8cc4d8" stroke-width="0.7"/><line x1="631.53" y1="622.04" x2="629.37" y2="610.16" stroke="#8cc4d8" stroke-width="0.7"/><line x1="633.77" y1="618.74" x2="632.63" y2="612.46" stroke="#8cc4d8" stroke-width="0.7"/><line x1="635.92" y1="614.92" x2="635.98" y2="615.28" stroke="#8cc4d8" stroke-width="0.7"/><line x1="638.07" y1="611.13" x2="639.33" y2="618.07" stroke="#8cc4d8" stroke-width="0.7"/><line x1="640.32" y1="607.91" x2="642.58" y2="620.29" stroke="#8cc4d8" stroke-width="0.7"/><path d="M576.47,628.60 L577.09,628.85 L577.70,629.09 L578.31,629.32 L578.92,629.54 L579.52,629.74 L580.12,629.92 L580.72,630.07 L581.31,630.20 L581.90,630.30 L582.48,630.37 L583.05,630.40 L583.62,630.40 L584.18,630.37 L584.73,630.29 L585.28,630.18 L585.82,630.02 L586.35,629.82 L586.88,629.59 L587.40,629.31 L587.91,628.98 L588.41,628.62 L588.90,628.22 L589.39,627.78 L589.87,627.30 L590.35,626.78 L590.82,626.23 L591.28,625.65 L591.74,625.05 L592.19,624.41 L592.64,623.76 L593.08,623.08 L593.53,622.40 L593.97,621.70 L594.41,620.99 L594.85,620.28 L595.29,619.58 L595.73,618.88 L596.17,618.19 L596.62,617.51 L597.06,616.85 L597.52,616.22 L597.98,615.62 L598.44,615.04 L598.91,614.50 L599.39,614.01 L599.89,613.63 L600.40,613.31 L600.92,613.03 L601.44,612.81 L601.98,612.65 L602.53,612.54 L603.09,612.49 L603.66,612.49 L604.23,612.54 L604.82,612.65 L605.42,612.81 L606.03,613.02 L606.64,613.27 L607.26,613.58 L607.89,613.92 L608.53,614.31 L609.18,614.73 L609.83,615.19 L610.49,615.67 L611.15,616.18 L611.81,616.72 L612.48,617.27 L613.15,617.83 L613.82,618.40 L614.50,618.98 L615.17,619.56 L615.84,620.13 L616.51,620.70 L617.18,621.25 L617.85,621.78 L618.51,622.30 L619.17,622.78 L619.82,623.24 L620.46,623.67 L621.10,624.05 L621.73,624.40 L622.36,624.71 L622.97,624.97 L623.58,625.18 L624.18,625.34 L624.76,625.45 L625.34,625.51 L625.91,625.51 L626.47,625.46 L627.02,625.35 L627.56,625.19 L628.09,624.97 L628.61,624.70 L629.11,624.38 L629.62,624.01 L630.11,623.59 L630.59,623.11 L631.06,622.60 L631.53,622.04 L631.99,621.44 L632.44,620.81 L632.89,620.15 L633.33,619.45 L633.77,618.74 L634.20,618.00 L634.63,617.24 L635.06,616.47 L635.49,615.70 L635.92,614.92 L636.34,614.14 L636.77,613.37 L637.20,612.61 L637.63,611.86 L638.07,611.13 L638.51,610.43 L638.95,609.75 L639.40,609.10 L639.86,608.49 L640.32,607.91 L640.80,607.38" fill="none" stroke="#1d7ea8" stroke-width="1.9" stroke-linecap="round"/><path d="M575.53,623.40 L576.01,622.95 L576.50,622.51 L576.99,622.08 L577.48,621.66 L577.98,621.26 L578.48,620.88 L578.98,620.53 L579.49,620.20 L580.00,619.90 L580.52,619.63 L581.05,619.40 L581.58,619.20 L582.12,619.03 L582.67,618.91 L583.22,618.82 L583.78,618.78 L584.35,618.78 L584.92,618.81 L585.50,618.89 L586.09,619.02 L586.69,619.18 L587.30,619.38 L587.91,619.62 L588.53,619.90 L589.15,620.22 L589.78,620.57 L590.42,620.95 L591.06,621.35 L591.71,621.79 L592.36,622.24 L593.02,622.72 L593.67,623.20 L594.33,623.70 L594.99,624.21 L595.65,624.72 L596.31,625.22 L596.97,625.72 L597.63,626.21 L598.28,626.69 L598.94,627.15 L599.58,627.58 L600.22,627.98 L600.86,628.36 L601.49,628.70 L602.11,628.99 L602.71,629.17 L603.30,629.29 L603.88,629.37 L604.46,629.39 L605.02,629.35 L605.57,629.26 L606.11,629.11 L606.64,628.91 L607.17,628.66 L607.68,628.35 L608.18,627.99 L608.67,627.58 L609.16,627.13 L609.64,626.62 L610.11,626.08 L610.57,625.49 L611.02,624.87 L611.47,624.21 L611.91,623.53 L612.35,622.82 L612.79,622.08 L613.22,621.33 L613.65,620.57 L614.08,619.80 L614.50,619.02 L614.93,618.24 L615.36,617.47 L615.79,616.70 L616.22,615.95 L616.65,615.22 L617.09,614.50 L617.53,613.82 L617.98,613.16 L618.44,612.53 L618.90,611.95 L619.37,611.40 L619.84,610.89 L620.33,610.43 L620.82,610.02 L621.32,609.66 L621.84,609.35 L622.36,609.09 L622.89,608.89 L623.43,608.74 L623.98,608.65 L624.54,608.61 L625.11,608.63 L625.69,608.70 L626.29,608.82 L626.88,608.99 L627.49,609.21 L628.11,609.49 L628.74,609.80 L629.37,610.16 L630.01,610.56 L630.66,610.99 L631.31,611.45 L631.97,611.95 L632.63,612.46 L633.30,613.00 L633.97,613.56 L634.64,614.13 L635.31,614.70 L635.98,615.28 L636.66,615.86 L637.33,616.43 L638.00,616.99 L638.67,617.54 L639.33,618.07 L639.99,618.57 L640.65,619.05 L641.30,619.50 L641.94,619.91 L642.58,620.29 L643.20,620.62" fill="none" stroke="#1d7ea8" stroke-width="1.9" stroke-linecap="round"/><text x="524.0" y="660.8" textLength="175.8" lengthAdjust="spacingAndGlyphs" font-family='"Liberation Serif", serif' font-size="19.4" font-weight="bold" font-style="italic" fill="#111" >NbICS1/NbPR1 genes</text><path d="M838.5,583.5 C838.5,545 890,518.4 950.7,518.4 C1012,518.4 1063,545 1063,583.5 C1063,606 1012,621.3 950.7,621.3 C890,621.3 838.5,606 838.5,583.5 Z" fill="#e6e9e4" stroke="#2f7a5e" stroke-width="1.6"/><path d="M852.5,581.5 C852.5,550 898,525.8 950.7,525.8 C1003,525.8 1048.5,550 1048.5,581.5 C1048.5,601 1003,613.8 950.7,613.8 C898,613.8 852.5,601 852.5,581.5 Z" fill="#f1f2ef" stroke="#5c9a2a" stroke-width="1.2"/><rect x="893.6" y="563.5" width="6.8" height="5.6" rx="1.2" fill="url(#ggr)"/><ellipse cx="897" cy="563.6" rx="3.4" ry="1.3" fill="#62bb84"/><rect x="901.6" y="562.0" width="6.8" height="5.6" rx="1.2" fill="url(#ggr)"/><ellipse cx="905" cy="562.1" rx="3.4" ry="1.3" fill="#62bb84"/><rect x="909.6" y="562.5" width="6.8" height="5.6" rx="1.2" fill="url(#ggr)"/><ellipse cx="913" cy="562.6" rx="3.4" ry="1.3" fill="#62bb84"/><rect x="917.6" y="564.5" width="6.8" height="5.6" rx="1.2" fill="url(#ggr)"/><ellipse cx="921" cy="564.6" rx="3.4" ry="1.3" fill="#62bb84"/><rect x="889.6" y="568.5" width="6.8" height="5.6" rx="1.2" fill="url(#ggr)"/><ellipse cx="893" cy="568.6" rx="3.4" ry="1.3" fill="#62bb84"/><rect x="897.6" y="567.5" width="6.8" height="5.6" rx="1.2" fill="url(#ggr)"/><ellipse cx="901" cy="567.6" rx="3.4" ry="1.3" fill="#62bb84"/><rect x="905.6" y="567.5" width="6.8" height="5.6" rx="1.2" fill="url(#ggr)"/><ellipse cx="909" cy="567.6" rx="3.4" ry="1.3" fill="#62bb84"/><rect x="913.6" y="568.5" width="6.8" height="5.6" rx="1.2" fill="url(#ggr)"/><ellipse cx="917" cy="568.6" rx="3.4" ry="1.3" fill="#62bb84"/><rect x="921.6" y="569.5" width="6.8" height="5.6" rx="1.2" fill="url(#ggr)"/><ellipse cx="925" cy="569.6" rx="3.4" ry="1.3" fill="#62bb84"/><rect x="885.6" y="573.5" width="6.8" height="5.6" rx="1.2" fill="url(#ggr)"/><ellipse cx="889" cy="573.6" rx="3.4" ry="1.3" fill="#62bb84"/><rect x="893.6" y="573.0" width="6.8" height="5.6" rx="1.2" fill="url(#ggr)"/><ellipse cx="897" cy="573.1" rx="3.4" ry="1.3" fill="#62bb84"/><rect x="901.6" y="573.0" width="6.8" height="5.6" rx="1.2" fill="url(#ggr)"/><ellipse cx="905" cy="573.1" rx="3.4" ry="1.3" fill="#62bb84"/><rect x="909.6" y="573.5" width="6.8" height="5.6" rx="1.2" fill="url(#ggr)"/><ellipse cx="913" cy="573.6" rx="3.4" ry="1.3" fill="#62bb84"/><rect x="917.6" y="574.5" width="6.8" height="5.6" rx="1.2" fill="url(#ggr)"/><ellipse cx="921" cy="574.6" rx="3.4" ry="1.3" fill="#62bb84"/><rect x="889.6" y="578.5" width="6.8" height="5.6" rx="1.2" fill="url(#ggr)"/><ellipse cx="893" cy="578.6" rx="3.4" ry="1.3" fill="#62bb84"/><rect x="897.6" y="578.0" width="6.8" height="5.6" rx="1.2" fill="url(#ggr)"/><ellipse cx="901" cy="578.1" rx="3.4" ry="1.3" fill="#62bb84"/><rect x="905.6" y="578.5" width="6.8" height="5.6" rx="1.2" fill="url(#ggr)"/><ellipse cx="909" cy="578.6" rx="3.4" ry="1.3" fill="#62bb84"/><rect x="913.6" y="579.5" width="6.8" height="5.6" rx="1.2" fill="url(#ggr)"/><ellipse cx="917" cy="579.6" rx="3.4" ry="1.3" fill="#62bb84"/><rect x="904.8" y="517" width="3" height="31" fill="#3a9ee0"/><path d="M902.0,547 L910.5999999999999,547 L906.3,555 Z" fill="#3a9ee0"/><rect x="904.8" y="598.5" width="3" height="32.0" fill="#3a9ee0"/><path d="M902.0,629.5 L910.5999999999999,629.5 L906.3,637.5 Z" fill="#3a9ee0"/><rect x="996.6" y="517" width="3" height="31" fill="#f5a83a"/><path d="M993.8000000000001,547 L1002.4,547 L998.1,555 Z" fill="#f5a83a"/><rect x="996.6" y="600" width="3" height="30.5" fill="#f5a83a"/><path d="M993.8000000000001,629.5 L1002.4,629.5 L998.1,637.5 Z" fill="#f5a83a"/><line x1="875.1" y1="574.0" x2="875.1" y2="594" stroke="#d0283a" stroke-width="1.6"/><path d="M875.1,566.5 L879.8000000000001,575.0 L875.1,572.7 L870.4,575.0 Z" fill="#e8102a"/><line x1="1026.9" y1="574.0" x2="1026.9" y2="592.5" stroke="#d0283a" stroke-width="1.6"/><path d="M1026.9,566.3 L1031.6000000000001,575.0 L1026.9,572.7 L1022.2,575.0 Z" fill="#e8102a"/><circle cx="999.4" cy="577.5" r="14.5" fill="#fff"/><circle cx="999.4" cy="577.5" r="18.7" fill="none" stroke="#c4ec3e" stroke-width="8.4"/><path d="M980.77,575.87 A18.7,18.7 0 0 1 996.80,558.98" fill="none" stroke="#7cc444" stroke-width="8.4"/><path d="M997.70,565.42 L995.89,552.55 L1001.35,558.90 Z" fill="#7cc444"/><path d="M1018.03,579.13 A18.7,18.7 0 0 1 1000.05,596.19" fill="none" stroke="#7cc444" stroke-width="8.4"/><path d="M999.83,589.69 L1000.28,602.68 L995.51,595.79 Z" fill="#7cc444"/><path d="M1010.86,573.33 L1023.08,568.88 L1018.00,575.55 Z" fill="#c4ec3e"/><path d="M987.94,581.67 L975.72,586.12 L980.80,579.45 Z" fill="#c4ec3e"/><circle cx="999.4" cy="577.5" r="23" fill="none" stroke="#6fb83c" stroke-width="0.5"/><circle cx="999.4" cy="577.5" r="14.4" fill="none" stroke="#6fb83c" stroke-width="0.5"/><text x="999" y="576.9" font-family='"Liberation Sans", sans-serif' font-size="9.3" font-weight="normal" font-style="normal" text-anchor="middle" fill="#333" >calvin</text><text x="999.3" y="585.2" font-family='"Liberation Sans", sans-serif' font-size="9.3" font-weight="normal" font-style="normal" text-anchor="middle" fill="#333" >cycle</text><text x="953.4" y="545" font-family='"Liberation Sans", sans-serif' font-size="7.4" font-weight="normal" font-style="normal" text-anchor="middle" fill="#333" >NADP<tspan font-size="4.5" dy="-3">+</tspan></text><text x="953.1" y="557.5" font-family='"Liberation Sans", sans-serif' font-size="7.4" font-weight="normal" font-style="normal" text-anchor="middle" fill="#333" >ADP</text><circle cx="954.4" cy="566.9" r="4.6" fill="#17663a"/><text x="954.4" y="569.6" font-family='"Liberation Sans", sans-serif' font-size="6.5" font-weight="normal" font-style="normal" text-anchor="middle" fill="#fff" >P</text><text x="947.5" y="568.6" font-family='"Liberation Sans", sans-serif' font-size="5" font-weight="normal" font-style="normal" text-anchor="middle" fill="#444" >+</text><text x="953.2" y="592.5" font-family='"Liberation Sans", sans-serif' font-size="7.4" font-weight="normal" font-style="normal" text-anchor="middle" fill="#333" >ATP</text><text x="953.4" y="605" font-family='"Liberation Sans", sans-serif' font-size="7.4" font-weight="normal" font-style="normal" text-anchor="middle" fill="#333" >NADPH</text><path d="M975,545 C970,540 964,539 960,540" fill="none" stroke="#9db89a" stroke-width="0.9"/><path d="M940,541 C934,541 929,544 926,548" fill="none" stroke="#9db89a" stroke-width="0.9"/><path d="M972,557 C969,553 966,551 963,551" fill="none" stroke="#9db89a" stroke-width="0.9"/><path d="M935,557 C931,558 928,561 926,565" fill="none" stroke="#9db89a" stroke-width="0.9"/><path d="M926,586 C929,590 934,592 940,592" fill="none" stroke="#9db89a" stroke-width="0.9"/><path d="M927,598 C931,602 936,604 941,604" fill="none" stroke="#9db89a" stroke-width="0.9"/><path d="M966,592 C971,592 976,590 979,586" fill="none" stroke="#9db89a" stroke-width="0.9"/><path d="M969,604 C974,604 979,601 982,597" fill="none" stroke="#9db89a" stroke-width="0.9"/><path d="M880.25,487.10 L874.12,488.74 L877.54,491.58 L873.11,491.87 L877.10,496.80 L871.17,494.52 L872.27,498.83 L868.52,496.46 L868.85,502.79 L865.39,497.47 L863.75,501.60 L862.11,497.47 L858.65,502.79 L858.98,496.46 L855.23,498.83 L856.33,494.52 L850.40,496.80 L854.39,491.87 L849.96,491.58 L853.38,488.74 L847.25,487.10 L853.38,485.46 L849.96,482.62 L854.39,482.33 L850.40,477.40 L856.33,479.68 L855.23,475.37 L858.98,477.74 L858.65,471.41 L862.11,476.73 L863.75,472.60 L865.39,476.73 L868.85,471.41 L868.52,477.74 L872.27,475.37 L871.17,479.68 L877.10,477.40 L873.11,482.33 L877.54,482.62 L874.12,485.46Z" fill="#f28a1e"/><circle cx="863.75" cy="487.1" r="9.2" fill="url(#gsun)"/><text x="857.0" y="512.8" textLength="20.1" lengthAdjust="spacingAndGlyphs" font-family='"Liberation Sans", sans-serif' font-size="10.2" font-weight="normal" font-style="normal" fill="#f6b57a" >light</text><path d="M862.00,519.00 L863.51,520.27 L864.82,521.53 L865.76,522.80 L866.25,524.07 L866.30,525.33 L866.01,526.60 L865.55,527.87 L865.13,529.13 L864.94,530.40 L865.15,531.67 L865.80,532.93 L866.89,534.20 L868.30,535.47 L869.83,536.73 L871.29,538.00 L872.48,539.27 L873.27,540.53 L873.59,541.80 L873.50,543.07 L873.12,544.33 L872.65,545.60 L872.30,546.87 L872.24,548.13 L872.60,549.40 L873.43,550.67 L874.65,551.93 L876.12,553.20 L877.66,554.47 L879.04,555.73 L880.09,557.00" fill="none" stroke="#f5b050" stroke-width="1"/><path d="M881.5923243358493,558.5 L877.4923243358493,556.4 L880.6923243358493,554.0 Z" fill="#f5b050"/><path d="M870.00,520.00 L871.51,521.27 L872.82,522.53 L873.76,523.80 L874.25,525.07 L874.30,526.33 L874.01,527.60 L873.55,528.87 L873.13,530.13 L872.94,531.40 L873.15,532.67 L873.80,533.93 L874.89,535.20 L876.30,536.47 L877.83,537.73 L879.29,539.00 L880.48,540.27 L881.27,541.53 L881.59,542.80 L881.50,544.07 L881.12,545.33 L880.65,546.60 L880.30,547.87 L880.24,549.13 L880.60,550.40 L881.43,551.67 L882.65,552.93 L884.12,554.20 L885.66,555.47 L887.04,556.73 L888.09,558.00" fill="none" stroke="#f5b050" stroke-width="1"/><path d="M889.5923243358493,559.5 L885.4923243358493,557.4 L888.6923243358493,555.0 Z" fill="#f5b050"/><path d="M877.00,515.00 L878.51,516.27 L879.82,517.53 L880.76,518.80 L881.25,520.07 L881.30,521.33 L881.01,522.60 L880.55,523.87 L880.13,525.13 L879.94,526.40 L880.15,527.67 L880.80,528.93 L881.89,530.20 L883.30,531.47 L884.83,532.73 L886.29,534.00 L887.48,535.27 L888.27,536.53 L888.59,537.80 L888.50,539.07 L888.12,540.33 L887.65,541.60 L887.30,542.87 L887.24,544.13 L887.60,545.40 L888.43,546.67 L889.65,547.93 L891.12,549.20 L892.66,550.47 L894.04,551.73 L895.09,553.00" fill="none" stroke="#f5b050" stroke-width="1"/><path d="M896.5923243358493,554.5 L892.4923243358493,552.4 L895.6923243358493,550.0 Z" fill="#f5b050"/><text x="908.9" y="496.7" font-family='"Liberation Sans", sans-serif' font-size="7.6" font-weight="normal" font-style="normal" text-anchor="middle" fill="#222" >H<tspan font-size="5" dy="1.8">2</tspan><tspan dy="-1.8">O</tspan></text><circle cx="903.7" cy="509.2" r="3.6" fill="#24508f"/><circle cx="914.2" cy="509.2" r="3.6" fill="#24508f"/><circle cx="908.6" cy="505.6" r="4.8" fill="#d8141c"/><circle cx="985" cy="504.2" r="3.5" fill="#c8141c"/><circle cx="995.6" cy="505.2" r="3.5" fill="#c8141c"/><circle cx="989.8" cy="499.6" r="5" fill="#3a3a3a"/><text x="1011.5" y="503.5" font-family='"Liberation Sans", sans-serif' font-size="7.6" font-weight="normal" font-style="normal" text-anchor="middle" fill="#222" >CO<tspan font-size="5" dy="1.8">2</tspan></text><text x="892" y="649.5" font-family='"Liberation Sans", sans-serif' font-size="8.4" font-weight="normal" font-style="normal" text-anchor="middle" fill="#4c9ad8" >O<tspan font-size="5" dy="1.8">2</tspan></text><circle cx="905.6" cy="647.2" r="3.8" fill="#d8141c"/><circle cx="913.1" cy="647.2" r="3.8" fill="#d8141c"/><text x="1001" y="650" font-family='"Liberation Sans", sans-serif' font-size="8.6" font-weight="normal" font-style="normal" text-anchor="middle" fill="#f5b556" >(CH<tspan font-size="5.5" dy="1.8">2</tspan><tspan dy="-1.8">O)</tspan></text>
</svg>
</body></html>
